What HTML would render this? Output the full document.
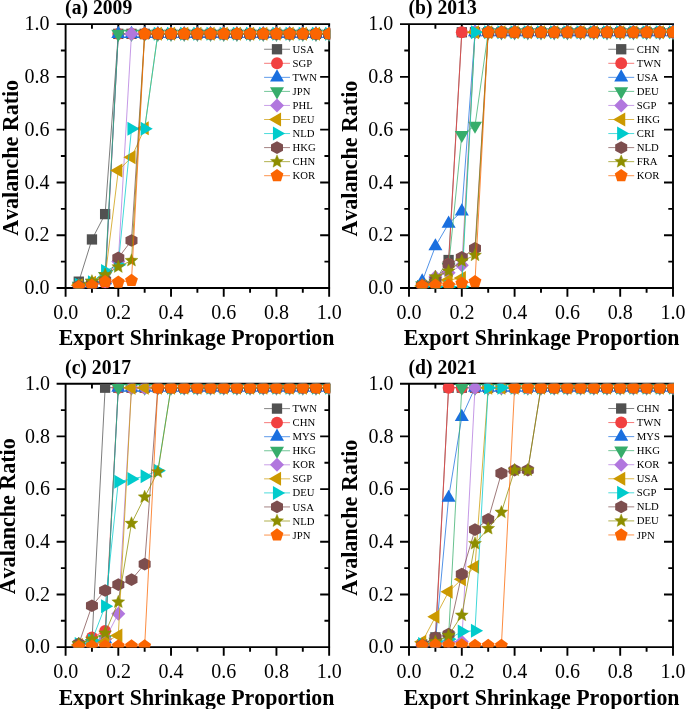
<!DOCTYPE html>
<html><head><meta charset="utf-8"><title>Avalanche Ratio</title>
<style>
html,body{margin:0;padding:0;background:#fff;}
body{width:685px;height:709px;overflow:hidden;font-family:"Liberation Serif",serif;}
svg text{font-family:"Liberation Serif",serif;fill:#000;font-kerning:none;}
.tl{font-size:20px;}
.at{font-size:23.4px;font-weight:bold;}
.pt{font-size:21.2px;font-weight:bold;}
.lg{font-size:10.7px;}
</style></head><body>
<svg width="685" height="709" viewBox="0 0 685 709" style="display:block;will-change:transform;transform:translateZ(0)">
<rect width="685" height="709" fill="#fff"/>
<path d="M56.60,24.10H330.15M56.60,288.00H330.15M65.60,24.10V296.70M329.15,24.10V296.70" fill="none" stroke="#000" stroke-width="1.9"/>
<path d="M60.90,261.61H65.6M324.45,261.61H329.15M91.95,288.0V292.70M91.95,24.1V28.80M56.60,235.22H65.6M320.15,235.22H329.15M118.31,288.0V296.70M118.31,24.1V32.80M60.90,208.83H65.6M324.45,208.83H329.15M144.66,288.0V292.70M144.66,24.1V28.80M56.60,182.44H65.6M320.15,182.44H329.15M171.02,288.0V296.70M171.02,24.1V32.80M60.90,156.05H65.6M324.45,156.05H329.15M197.38,288.0V292.70M197.38,24.1V28.80M56.60,129.66H65.6M320.15,129.66H329.15M223.73,288.0V296.70M223.73,24.1V32.80M60.90,103.27H65.6M324.45,103.27H329.15M250.08,288.0V292.70M250.08,24.1V28.80M56.60,76.88H65.6M320.15,76.88H329.15M276.44,288.0V296.70M276.44,24.1V32.80M60.90,50.49H65.6M324.45,50.49H329.15M302.80,288.0V292.70M302.80,24.1V28.80" fill="none" stroke="#000" stroke-width="1.9"/>
<clipPath id="cp0"><rect x="65.6" y="24.1" width="264.55" height="264.2"/></clipPath>
<g clip-path="url(#cp0)">
<polyline points="78.78,281.67 91.95,239.44 105.13,214.11 118.31,33.86 131.49,33.86 144.66,33.86 157.84,33.86 171.02,33.86 184.20,33.86 197.38,33.86 210.55,33.86 223.73,33.86 236.91,33.86 250.08,33.86 263.26,33.86 276.44,33.86 289.62,33.86 302.80,33.86 315.97,33.86 329.15,33.86" fill="none" stroke="#515151" stroke-width="0.75"/>
<rect x="73.63" y="276.52" width="10.30" height="10.30" fill="#515151"/>
<rect x="86.80" y="234.29" width="10.30" height="10.30" fill="#515151"/>
<rect x="99.98" y="208.96" width="10.30" height="10.30" fill="#515151"/>
<rect x="113.16" y="28.71" width="10.30" height="10.30" fill="#515151"/>
<rect x="126.34" y="28.71" width="10.30" height="10.30" fill="#515151"/>
<rect x="139.51" y="28.71" width="10.30" height="10.30" fill="#515151"/>
<rect x="152.69" y="28.71" width="10.30" height="10.30" fill="#515151"/>
<rect x="165.87" y="28.71" width="10.30" height="10.30" fill="#515151"/>
<rect x="179.05" y="28.71" width="10.30" height="10.30" fill="#515151"/>
<rect x="192.22" y="28.71" width="10.30" height="10.30" fill="#515151"/>
<rect x="205.40" y="28.71" width="10.30" height="10.30" fill="#515151"/>
<rect x="218.58" y="28.71" width="10.30" height="10.30" fill="#515151"/>
<rect x="231.76" y="28.71" width="10.30" height="10.30" fill="#515151"/>
<rect x="244.93" y="28.71" width="10.30" height="10.30" fill="#515151"/>
<rect x="258.11" y="28.71" width="10.30" height="10.30" fill="#515151"/>
<rect x="271.29" y="28.71" width="10.30" height="10.30" fill="#515151"/>
<rect x="284.47" y="28.71" width="10.30" height="10.30" fill="#515151"/>
<rect x="297.65" y="28.71" width="10.30" height="10.30" fill="#515151"/>
<rect x="310.82" y="28.71" width="10.30" height="10.30" fill="#515151"/>
<rect x="324.00" y="28.71" width="10.30" height="10.30" fill="#515151"/>
<polyline points="78.78,285.89 91.95,284.83 105.13,282.72 118.31,33.86 131.49,33.86 144.66,33.86 157.84,33.86 171.02,33.86 184.20,33.86 197.38,33.86 210.55,33.86 223.73,33.86 236.91,33.86 250.08,33.86 263.26,33.86 276.44,33.86 289.62,33.86 302.80,33.86 315.97,33.86 329.15,33.86" fill="none" stroke="#F14040" stroke-width="0.75"/>
<circle cx="78.78" cy="285.89" r="5.95" fill="#F14040"/>
<circle cx="91.95" cy="284.83" r="5.95" fill="#F14040"/>
<circle cx="105.13" cy="282.72" r="5.95" fill="#F14040"/>
<circle cx="118.31" cy="33.86" r="5.95" fill="#F14040"/>
<circle cx="131.49" cy="33.86" r="5.95" fill="#F14040"/>
<circle cx="144.66" cy="33.86" r="5.95" fill="#F14040"/>
<circle cx="157.84" cy="33.86" r="5.95" fill="#F14040"/>
<circle cx="171.02" cy="33.86" r="5.95" fill="#F14040"/>
<circle cx="184.20" cy="33.86" r="5.95" fill="#F14040"/>
<circle cx="197.38" cy="33.86" r="5.95" fill="#F14040"/>
<circle cx="210.55" cy="33.86" r="5.95" fill="#F14040"/>
<circle cx="223.73" cy="33.86" r="5.95" fill="#F14040"/>
<circle cx="236.91" cy="33.86" r="5.95" fill="#F14040"/>
<circle cx="250.08" cy="33.86" r="5.95" fill="#F14040"/>
<circle cx="263.26" cy="33.86" r="5.95" fill="#F14040"/>
<circle cx="276.44" cy="33.86" r="5.95" fill="#F14040"/>
<circle cx="289.62" cy="33.86" r="5.95" fill="#F14040"/>
<circle cx="302.80" cy="33.86" r="5.95" fill="#F14040"/>
<circle cx="315.97" cy="33.86" r="5.95" fill="#F14040"/>
<circle cx="329.15" cy="33.86" r="5.95" fill="#F14040"/>
<polyline points="78.78,285.89 91.95,284.04 105.13,280.08 118.31,33.86 131.49,33.86 144.66,33.86 157.84,33.86 171.02,33.86 184.20,33.86 197.38,33.86 210.55,33.86 223.73,33.86 236.91,33.86 250.08,33.86 263.26,33.86 276.44,33.86 289.62,33.86 302.80,33.86 315.97,33.86 329.15,33.86" fill="none" stroke="#1A6FDF" stroke-width="0.75"/>
<polygon points="78.78,277.79 71.78,289.94 85.78,289.94" fill="#1A6FDF"/>
<polygon points="91.95,275.94 84.95,288.09 98.95,288.09" fill="#1A6FDF"/>
<polygon points="105.13,271.98 98.13,284.13 112.13,284.13" fill="#1A6FDF"/>
<polygon points="118.31,25.76 111.31,37.91 125.31,37.91" fill="#1A6FDF"/>
<polygon points="131.49,25.76 124.49,37.91 138.49,37.91" fill="#1A6FDF"/>
<polygon points="144.66,25.76 137.66,37.91 151.66,37.91" fill="#1A6FDF"/>
<polygon points="157.84,25.76 150.84,37.91 164.84,37.91" fill="#1A6FDF"/>
<polygon points="171.02,25.76 164.02,37.91 178.02,37.91" fill="#1A6FDF"/>
<polygon points="184.20,25.76 177.20,37.91 191.20,37.91" fill="#1A6FDF"/>
<polygon points="197.38,25.76 190.38,37.91 204.38,37.91" fill="#1A6FDF"/>
<polygon points="210.55,25.76 203.55,37.91 217.55,37.91" fill="#1A6FDF"/>
<polygon points="223.73,25.76 216.73,37.91 230.73,37.91" fill="#1A6FDF"/>
<polygon points="236.91,25.76 229.91,37.91 243.91,37.91" fill="#1A6FDF"/>
<polygon points="250.08,25.76 243.08,37.91 257.08,37.91" fill="#1A6FDF"/>
<polygon points="263.26,25.76 256.26,37.91 270.26,37.91" fill="#1A6FDF"/>
<polygon points="276.44,25.76 269.44,37.91 283.44,37.91" fill="#1A6FDF"/>
<polygon points="289.62,25.76 282.62,37.91 296.62,37.91" fill="#1A6FDF"/>
<polygon points="302.80,25.76 295.80,37.91 309.80,37.91" fill="#1A6FDF"/>
<polygon points="315.97,25.76 308.97,37.91 322.97,37.91" fill="#1A6FDF"/>
<polygon points="329.15,25.76 322.15,37.91 336.15,37.91" fill="#1A6FDF"/>
<polyline points="78.78,285.89 91.95,282.72 105.13,276.12 118.31,33.86 131.49,33.86 144.66,33.86 157.84,33.86 171.02,33.86 184.20,33.86 197.38,33.86 210.55,33.86 223.73,33.86 236.91,33.86 250.08,33.86 263.26,33.86 276.44,33.86 289.62,33.86 302.80,33.86 315.97,33.86 329.15,33.86" fill="none" stroke="#37AD6B" stroke-width="0.75"/>
<polygon points="78.78,293.99 71.78,281.84 85.78,281.84" fill="#37AD6B"/>
<polygon points="91.95,290.82 84.95,278.67 98.95,278.67" fill="#37AD6B"/>
<polygon points="105.13,284.22 98.13,272.07 112.13,272.07" fill="#37AD6B"/>
<polygon points="118.31,41.96 111.31,29.81 125.31,29.81" fill="#37AD6B"/>
<polygon points="131.49,41.96 124.49,29.81 138.49,29.81" fill="#37AD6B"/>
<polygon points="144.66,41.96 137.66,29.81 151.66,29.81" fill="#37AD6B"/>
<polygon points="157.84,41.96 150.84,29.81 164.84,29.81" fill="#37AD6B"/>
<polygon points="171.02,41.96 164.02,29.81 178.02,29.81" fill="#37AD6B"/>
<polygon points="184.20,41.96 177.20,29.81 191.20,29.81" fill="#37AD6B"/>
<polygon points="197.38,41.96 190.38,29.81 204.38,29.81" fill="#37AD6B"/>
<polygon points="210.55,41.96 203.55,29.81 217.55,29.81" fill="#37AD6B"/>
<polygon points="223.73,41.96 216.73,29.81 230.73,29.81" fill="#37AD6B"/>
<polygon points="236.91,41.96 229.91,29.81 243.91,29.81" fill="#37AD6B"/>
<polygon points="250.08,41.96 243.08,29.81 257.08,29.81" fill="#37AD6B"/>
<polygon points="263.26,41.96 256.26,29.81 270.26,29.81" fill="#37AD6B"/>
<polygon points="276.44,41.96 269.44,29.81 283.44,29.81" fill="#37AD6B"/>
<polygon points="289.62,41.96 282.62,29.81 296.62,29.81" fill="#37AD6B"/>
<polygon points="302.80,41.96 295.80,29.81 309.80,29.81" fill="#37AD6B"/>
<polygon points="315.97,41.96 308.97,29.81 322.97,29.81" fill="#37AD6B"/>
<polygon points="329.15,41.96 322.15,29.81 336.15,29.81" fill="#37AD6B"/>
<polyline points="78.78,285.89 91.95,284.04 105.13,281.40 118.31,261.61 131.49,33.86 144.66,33.86 157.84,33.86 171.02,33.86 184.20,33.86 197.38,33.86 210.55,33.86 223.73,33.86 236.91,33.86 250.08,33.86 263.26,33.86 276.44,33.86 289.62,33.86 302.80,33.86 315.97,33.86 329.15,33.86" fill="none" stroke="#B177DE" stroke-width="0.75"/>
<polygon points="78.78,278.89 85.78,285.89 78.78,292.89 71.78,285.89" fill="#B177DE"/>
<polygon points="91.95,277.04 98.95,284.04 91.95,291.04 84.95,284.04" fill="#B177DE"/>
<polygon points="105.13,274.40 112.13,281.40 105.13,288.40 98.13,281.40" fill="#B177DE"/>
<polygon points="118.31,254.61 125.31,261.61 118.31,268.61 111.31,261.61" fill="#B177DE"/>
<polygon points="131.49,26.86 138.49,33.86 131.49,40.86 124.49,33.86" fill="#B177DE"/>
<polygon points="144.66,26.86 151.66,33.86 144.66,40.86 137.66,33.86" fill="#B177DE"/>
<polygon points="157.84,26.86 164.84,33.86 157.84,40.86 150.84,33.86" fill="#B177DE"/>
<polygon points="171.02,26.86 178.02,33.86 171.02,40.86 164.02,33.86" fill="#B177DE"/>
<polygon points="184.20,26.86 191.20,33.86 184.20,40.86 177.20,33.86" fill="#B177DE"/>
<polygon points="197.38,26.86 204.38,33.86 197.38,40.86 190.38,33.86" fill="#B177DE"/>
<polygon points="210.55,26.86 217.55,33.86 210.55,40.86 203.55,33.86" fill="#B177DE"/>
<polygon points="223.73,26.86 230.73,33.86 223.73,40.86 216.73,33.86" fill="#B177DE"/>
<polygon points="236.91,26.86 243.91,33.86 236.91,40.86 229.91,33.86" fill="#B177DE"/>
<polygon points="250.08,26.86 257.08,33.86 250.08,40.86 243.08,33.86" fill="#B177DE"/>
<polygon points="263.26,26.86 270.26,33.86 263.26,40.86 256.26,33.86" fill="#B177DE"/>
<polygon points="276.44,26.86 283.44,33.86 276.44,40.86 269.44,33.86" fill="#B177DE"/>
<polygon points="289.62,26.86 296.62,33.86 289.62,40.86 282.62,33.86" fill="#B177DE"/>
<polygon points="302.80,26.86 309.80,33.86 302.80,40.86 295.80,33.86" fill="#B177DE"/>
<polygon points="315.97,26.86 322.97,33.86 315.97,40.86 308.97,33.86" fill="#B177DE"/>
<polygon points="329.15,26.86 336.15,33.86 329.15,40.86 322.15,33.86" fill="#B177DE"/>
<polyline points="78.78,285.36 91.95,282.72 105.13,277.44 118.31,170.56 131.49,157.37 144.66,128.34 157.84,33.86 171.02,33.86 184.20,33.86 197.38,33.86 210.55,33.86 223.73,33.86 236.91,33.86 250.08,33.86 263.26,33.86 276.44,33.86 289.62,33.86 302.80,33.86 315.97,33.86 329.15,33.86" fill="none" stroke="#CC9900" stroke-width="0.75"/>
<polygon points="70.68,285.36 82.83,278.36 82.83,292.36" fill="#CC9900"/>
<polygon points="83.86,282.72 96.00,275.72 96.00,289.72" fill="#CC9900"/>
<polygon points="97.03,277.44 109.18,270.44 109.18,284.44" fill="#CC9900"/>
<polygon points="110.21,170.56 122.36,163.56 122.36,177.56" fill="#CC9900"/>
<polygon points="123.39,157.37 135.54,150.37 135.54,164.37" fill="#CC9900"/>
<polygon points="136.56,128.34 148.72,121.34 148.72,135.34" fill="#CC9900"/>
<polygon points="149.74,33.86 161.89,26.86 161.89,40.86" fill="#CC9900"/>
<polygon points="162.92,33.86 175.07,26.86 175.07,40.86" fill="#CC9900"/>
<polygon points="176.10,33.86 188.25,26.86 188.25,40.86" fill="#CC9900"/>
<polygon points="189.28,33.86 201.43,26.86 201.43,40.86" fill="#CC9900"/>
<polygon points="202.45,33.86 214.60,26.86 214.60,40.86" fill="#CC9900"/>
<polygon points="215.63,33.86 227.78,26.86 227.78,40.86" fill="#CC9900"/>
<polygon points="228.81,33.86 240.96,26.86 240.96,40.86" fill="#CC9900"/>
<polygon points="241.98,33.86 254.13,26.86 254.13,40.86" fill="#CC9900"/>
<polygon points="255.16,33.86 267.31,26.86 267.31,40.86" fill="#CC9900"/>
<polygon points="268.34,33.86 280.49,26.86 280.49,40.86" fill="#CC9900"/>
<polygon points="281.52,33.86 293.67,26.86 293.67,40.86" fill="#CC9900"/>
<polygon points="294.69,33.86 306.85,26.86 306.85,40.86" fill="#CC9900"/>
<polygon points="307.87,33.86 320.02,26.86 320.02,40.86" fill="#CC9900"/>
<polygon points="321.05,33.86 333.20,26.86 333.20,40.86" fill="#CC9900"/>
<polyline points="78.78,284.83 91.95,282.19 105.13,271.11 118.31,264.78 131.49,128.87 144.66,128.87 157.84,33.86 171.02,33.86 184.20,33.86 197.38,33.86 210.55,33.86 223.73,33.86 236.91,33.86 250.08,33.86 263.26,33.86 276.44,33.86 289.62,33.86 302.80,33.86 315.97,33.86 329.15,33.86" fill="none" stroke="#00CBCC" stroke-width="0.75"/>
<polygon points="86.88,284.83 74.73,277.83 74.73,291.83" fill="#00CBCC"/>
<polygon points="100.05,282.19 87.91,275.19 87.91,289.19" fill="#00CBCC"/>
<polygon points="113.23,271.11 101.08,264.11 101.08,278.11" fill="#00CBCC"/>
<polygon points="126.41,264.78 114.26,257.78 114.26,271.78" fill="#00CBCC"/>
<polygon points="139.59,128.87 127.44,121.87 127.44,135.87" fill="#00CBCC"/>
<polygon points="152.76,128.87 140.61,121.87 140.61,135.87" fill="#00CBCC"/>
<polygon points="165.94,33.86 153.79,26.86 153.79,40.86" fill="#00CBCC"/>
<polygon points="179.12,33.86 166.97,26.86 166.97,40.86" fill="#00CBCC"/>
<polygon points="192.30,33.86 180.15,26.86 180.15,40.86" fill="#00CBCC"/>
<polygon points="205.47,33.86 193.32,26.86 193.32,40.86" fill="#00CBCC"/>
<polygon points="218.65,33.86 206.50,26.86 206.50,40.86" fill="#00CBCC"/>
<polygon points="231.83,33.86 219.68,26.86 219.68,40.86" fill="#00CBCC"/>
<polygon points="245.01,33.86 232.86,26.86 232.86,40.86" fill="#00CBCC"/>
<polygon points="258.19,33.86 246.03,26.86 246.03,40.86" fill="#00CBCC"/>
<polygon points="271.36,33.86 259.21,26.86 259.21,40.86" fill="#00CBCC"/>
<polygon points="284.54,33.86 272.39,26.86 272.39,40.86" fill="#00CBCC"/>
<polygon points="297.72,33.86 285.57,26.86 285.57,40.86" fill="#00CBCC"/>
<polygon points="310.90,33.86 298.75,26.86 298.75,40.86" fill="#00CBCC"/>
<polygon points="324.07,33.86 311.92,26.86 311.92,40.86" fill="#00CBCC"/>
<polygon points="337.25,33.86 325.10,26.86 325.10,40.86" fill="#00CBCC"/>
<polyline points="78.78,285.89 91.95,284.04 105.13,280.08 118.31,257.92 131.49,240.50 144.66,33.86 157.84,33.86 171.02,33.86 184.20,33.86 197.38,33.86 210.55,33.86 223.73,33.86 236.91,33.86 250.08,33.86 263.26,33.86 276.44,33.86 289.62,33.86 302.80,33.86 315.97,33.86 329.15,33.86" fill="none" stroke="#7D4E4E" stroke-width="0.75"/>
<polygon points="78.78,279.54 84.78,282.72 84.78,289.06 78.78,292.24 72.78,289.06 72.78,282.72" fill="#7D4E4E"/>
<polygon points="91.95,277.69 97.95,280.87 97.95,287.21 91.95,290.39 85.95,287.21 85.95,280.87" fill="#7D4E4E"/>
<polygon points="105.13,273.73 111.13,276.91 111.13,283.25 105.13,286.43 99.13,283.25 99.13,276.91" fill="#7D4E4E"/>
<polygon points="118.31,251.57 124.31,254.75 124.31,261.09 118.31,264.27 112.31,261.09 112.31,254.75" fill="#7D4E4E"/>
<polygon points="131.49,234.15 137.49,237.33 137.49,243.67 131.49,246.85 125.49,243.67 125.49,237.33" fill="#7D4E4E"/>
<polygon points="144.66,27.51 150.66,30.69 150.66,37.03 144.66,40.21 138.66,37.03 138.66,30.69" fill="#7D4E4E"/>
<polygon points="157.84,27.51 163.84,30.69 163.84,37.03 157.84,40.21 151.84,37.03 151.84,30.69" fill="#7D4E4E"/>
<polygon points="171.02,27.51 177.02,30.69 177.02,37.03 171.02,40.21 165.02,37.03 165.02,30.69" fill="#7D4E4E"/>
<polygon points="184.20,27.51 190.20,30.69 190.20,37.03 184.20,40.21 178.20,37.03 178.20,30.69" fill="#7D4E4E"/>
<polygon points="197.38,27.51 203.38,30.69 203.38,37.03 197.38,40.21 191.38,37.03 191.38,30.69" fill="#7D4E4E"/>
<polygon points="210.55,27.51 216.55,30.69 216.55,37.03 210.55,40.21 204.55,37.03 204.55,30.69" fill="#7D4E4E"/>
<polygon points="223.73,27.51 229.73,30.69 229.73,37.03 223.73,40.21 217.73,37.03 217.73,30.69" fill="#7D4E4E"/>
<polygon points="236.91,27.51 242.91,30.69 242.91,37.03 236.91,40.21 230.91,37.03 230.91,30.69" fill="#7D4E4E"/>
<polygon points="250.08,27.51 256.08,30.69 256.08,37.03 250.08,40.21 244.08,37.03 244.08,30.69" fill="#7D4E4E"/>
<polygon points="263.26,27.51 269.26,30.69 269.26,37.03 263.26,40.21 257.26,37.03 257.26,30.69" fill="#7D4E4E"/>
<polygon points="276.44,27.51 282.44,30.69 282.44,37.03 276.44,40.21 270.44,37.03 270.44,30.69" fill="#7D4E4E"/>
<polygon points="289.62,27.51 295.62,30.69 295.62,37.03 289.62,40.21 283.62,37.03 283.62,30.69" fill="#7D4E4E"/>
<polygon points="302.80,27.51 308.80,30.69 308.80,37.03 302.80,40.21 296.80,37.03 296.80,30.69" fill="#7D4E4E"/>
<polygon points="315.97,27.51 321.97,30.69 321.97,37.03 315.97,40.21 309.97,37.03 309.97,30.69" fill="#7D4E4E"/>
<polygon points="329.15,27.51 335.15,30.69 335.15,37.03 329.15,40.21 323.15,37.03 323.15,30.69" fill="#7D4E4E"/>
<polyline points="78.78,285.36 91.95,281.40 105.13,274.81 118.31,266.89 131.49,260.55 144.66,33.86 157.84,33.86 171.02,33.86 184.20,33.86 197.38,33.86 210.55,33.86 223.73,33.86 236.91,33.86 250.08,33.86 263.26,33.86 276.44,33.86 289.62,33.86 302.80,33.86 315.97,33.86 329.15,33.86" fill="none" stroke="#8E8E00" stroke-width="0.75"/>
<polygon points="78.78,278.56 80.58,282.89 85.24,283.26 81.69,286.31 82.77,290.86 78.78,288.42 74.78,290.86 75.87,286.31 72.31,283.26 76.98,282.89" fill="#8E8E00" stroke="#8E8E00" stroke-width="0.4"/>
<polygon points="91.95,274.60 93.75,278.93 98.42,279.30 94.87,282.35 95.95,286.90 91.95,284.46 87.96,286.90 89.04,282.35 85.49,279.30 90.16,278.93" fill="#8E8E00" stroke="#8E8E00" stroke-width="0.4"/>
<polygon points="105.13,268.00 106.93,272.33 111.60,272.70 108.04,275.75 109.13,280.31 105.13,277.87 101.14,280.31 102.22,275.75 98.67,272.70 103.33,272.33" fill="#8E8E00" stroke="#8E8E00" stroke-width="0.4"/>
<polygon points="118.31,260.09 120.11,264.41 124.78,264.79 121.22,267.83 122.31,272.39 118.31,269.95 114.31,272.39 115.40,267.83 111.84,264.79 116.51,264.41" fill="#8E8E00" stroke="#8E8E00" stroke-width="0.4"/>
<polygon points="131.49,253.75 133.29,258.08 137.95,258.45 134.40,261.50 135.48,266.06 131.49,263.61 127.49,266.06 128.58,261.50 125.02,258.45 129.69,258.08" fill="#8E8E00" stroke="#8E8E00" stroke-width="0.4"/>
<polygon points="144.66,27.06 146.46,31.39 151.13,31.76 147.58,34.81 148.66,39.37 144.66,36.92 140.67,39.37 141.75,34.81 138.20,31.76 142.87,31.39" fill="#8E8E00" stroke="#8E8E00" stroke-width="0.4"/>
<polygon points="157.84,27.06 159.64,31.39 164.31,31.76 160.75,34.81 161.84,39.37 157.84,36.92 153.85,39.37 154.93,34.81 151.38,31.76 156.04,31.39" fill="#8E8E00" stroke="#8E8E00" stroke-width="0.4"/>
<polygon points="171.02,27.06 172.82,31.39 177.49,31.76 173.93,34.81 175.02,39.37 171.02,36.92 167.02,39.37 168.11,34.81 164.55,31.76 169.22,31.39" fill="#8E8E00" stroke="#8E8E00" stroke-width="0.4"/>
<polygon points="184.20,27.06 186.00,31.39 190.66,31.76 187.11,34.81 188.19,39.37 184.20,36.92 180.20,39.37 181.29,34.81 177.73,31.76 182.40,31.39" fill="#8E8E00" stroke="#8E8E00" stroke-width="0.4"/>
<polygon points="197.38,27.06 199.17,31.39 203.84,31.76 200.29,34.81 201.37,39.37 197.38,36.92 193.38,39.37 194.46,34.81 190.91,31.76 195.58,31.39" fill="#8E8E00" stroke="#8E8E00" stroke-width="0.4"/>
<polygon points="210.55,27.06 212.35,31.39 217.02,31.76 213.46,34.81 214.55,39.37 210.55,36.92 206.56,39.37 207.64,34.81 204.09,31.76 208.75,31.39" fill="#8E8E00" stroke="#8E8E00" stroke-width="0.4"/>
<polygon points="223.73,27.06 225.53,31.39 230.20,31.76 226.64,34.81 227.73,39.37 223.73,36.92 219.73,39.37 220.82,34.81 217.26,31.76 221.93,31.39" fill="#8E8E00" stroke="#8E8E00" stroke-width="0.4"/>
<polygon points="236.91,27.06 238.71,31.39 243.37,31.76 239.82,34.81 240.90,39.37 236.91,36.92 232.91,39.37 234.00,34.81 230.44,31.76 235.11,31.39" fill="#8E8E00" stroke="#8E8E00" stroke-width="0.4"/>
<polygon points="250.08,27.06 251.88,31.39 256.55,31.76 253.00,34.81 254.08,39.37 250.08,36.92 246.09,39.37 247.17,34.81 243.62,31.76 248.29,31.39" fill="#8E8E00" stroke="#8E8E00" stroke-width="0.4"/>
<polygon points="263.26,27.06 265.06,31.39 269.73,31.76 266.17,34.81 267.26,39.37 263.26,36.92 259.27,39.37 260.35,34.81 256.80,31.76 261.46,31.39" fill="#8E8E00" stroke="#8E8E00" stroke-width="0.4"/>
<polygon points="276.44,27.06 278.24,31.39 282.91,31.76 279.35,34.81 280.44,39.37 276.44,36.92 272.44,39.37 273.53,34.81 269.97,31.76 274.64,31.39" fill="#8E8E00" stroke="#8E8E00" stroke-width="0.4"/>
<polygon points="289.62,27.06 291.42,31.39 296.08,31.76 292.53,34.81 293.61,39.37 289.62,36.92 285.62,39.37 286.71,34.81 283.15,31.76 287.82,31.39" fill="#8E8E00" stroke="#8E8E00" stroke-width="0.4"/>
<polygon points="302.80,27.06 304.59,31.39 309.26,31.76 305.71,34.81 306.79,39.37 302.80,36.92 298.80,39.37 299.88,34.81 296.33,31.76 301.00,31.39" fill="#8E8E00" stroke="#8E8E00" stroke-width="0.4"/>
<polygon points="315.97,27.06 317.77,31.39 322.44,31.76 318.88,34.81 319.97,39.37 315.97,36.92 311.98,39.37 313.06,34.81 309.51,31.76 314.17,31.39" fill="#8E8E00" stroke="#8E8E00" stroke-width="0.4"/>
<polygon points="329.15,27.06 330.95,31.39 335.62,31.76 332.06,34.81 333.15,39.37 329.15,36.92 325.15,39.37 326.24,34.81 322.68,31.76 327.35,31.39" fill="#8E8E00" stroke="#8E8E00" stroke-width="0.4"/>
<polyline points="78.78,286.68 91.95,285.62 105.13,281.67 118.31,282.19 131.49,280.61 144.66,33.86 157.84,33.86 171.02,33.86 184.20,33.86 197.38,33.86 210.55,33.86 223.73,33.86 236.91,33.86 250.08,33.86 263.26,33.86 276.44,33.86 289.62,33.86 302.80,33.86 315.97,33.86 329.15,33.86" fill="none" stroke="#FB6501" stroke-width="0.75"/>
<polygon points="78.78,279.93 85.20,284.59 82.75,292.14 74.81,292.14 72.36,284.59" fill="#FB6501"/>
<polygon points="91.95,278.87 98.37,283.54 95.92,291.09 87.99,291.09 85.54,283.54" fill="#FB6501"/>
<polygon points="105.13,274.92 111.55,279.58 109.10,287.13 101.16,287.13 98.71,279.58" fill="#FB6501"/>
<polygon points="118.31,275.44 124.73,280.11 122.28,287.66 114.34,287.66 111.89,280.11" fill="#FB6501"/>
<polygon points="131.49,273.86 137.91,278.52 135.46,286.07 127.52,286.07 125.07,278.52" fill="#FB6501"/>
<polygon points="144.66,27.11 151.08,31.78 148.63,39.33 140.70,39.33 138.25,31.78" fill="#FB6501"/>
<polygon points="157.84,27.11 164.26,31.78 161.81,39.33 153.87,39.33 151.42,31.78" fill="#FB6501"/>
<polygon points="171.02,27.11 177.44,31.78 174.99,39.33 167.05,39.33 164.60,31.78" fill="#FB6501"/>
<polygon points="184.20,27.11 190.62,31.78 188.17,39.33 180.23,39.33 177.78,31.78" fill="#FB6501"/>
<polygon points="197.38,27.11 203.79,31.78 201.34,39.33 193.41,39.33 190.96,31.78" fill="#FB6501"/>
<polygon points="210.55,27.11 216.97,31.78 214.52,39.33 206.58,39.33 204.13,31.78" fill="#FB6501"/>
<polygon points="223.73,27.11 230.15,31.78 227.70,39.33 219.76,39.33 217.31,31.78" fill="#FB6501"/>
<polygon points="236.91,27.11 243.33,31.78 240.88,39.33 232.94,39.33 230.49,31.78" fill="#FB6501"/>
<polygon points="250.08,27.11 256.50,31.78 254.05,39.33 246.12,39.33 243.67,31.78" fill="#FB6501"/>
<polygon points="263.26,27.11 269.68,31.78 267.23,39.33 259.29,39.33 256.84,31.78" fill="#FB6501"/>
<polygon points="276.44,27.11 282.86,31.78 280.41,39.33 272.47,39.33 270.02,31.78" fill="#FB6501"/>
<polygon points="289.62,27.11 296.04,31.78 293.59,39.33 285.65,39.33 283.20,31.78" fill="#FB6501"/>
<polygon points="302.80,27.11 309.21,31.78 306.76,39.33 298.83,39.33 296.38,31.78" fill="#FB6501"/>
<polygon points="315.97,27.11 322.39,31.78 319.94,39.33 312.00,39.33 309.55,31.78" fill="#FB6501"/>
<polygon points="329.15,27.11 335.57,31.78 333.12,39.33 325.18,39.33 322.73,31.78" fill="#FB6501"/>
</g>
<text x="49.40" y="294.10" text-anchor="end" class="tl">0.0</text>
<text x="65.70" y="318.90" text-anchor="middle" class="tl">0.0</text>
<text x="49.40" y="241.32" text-anchor="end" class="tl">0.2</text>
<text x="118.41" y="318.90" text-anchor="middle" class="tl">0.2</text>
<text x="49.40" y="188.54" text-anchor="end" class="tl">0.4</text>
<text x="171.12" y="318.90" text-anchor="middle" class="tl">0.4</text>
<text x="49.40" y="135.76" text-anchor="end" class="tl">0.6</text>
<text x="223.83" y="318.90" text-anchor="middle" class="tl">0.6</text>
<text x="49.40" y="82.98" text-anchor="end" class="tl">0.8</text>
<text x="276.54" y="318.90" text-anchor="middle" class="tl">0.8</text>
<text x="49.40" y="30.20" text-anchor="end" class="tl">1.0</text>
<text x="329.25" y="318.90" text-anchor="middle" class="tl">1.0</text>
<text transform="translate(196.57,345.45) scale(0.935,1)" text-anchor="middle" class="at">Export Shrinkage Proportion</text>
<text transform="translate(17.70,157.85) rotate(-90) scale(0.941,1)" text-anchor="middle" class="at">Avalanche Ratio</text>
<text transform="translate(65.10,13.90) scale(0.927,1)" class="pt">(a) 2009</text>
<path d="M264.10,49.25H290.00" stroke="#515151" stroke-width="0.7"/>
<rect x="271.85" y="44.10" width="10.30" height="10.30" fill="#515151"/>
<text x="292.60" y="52.80" class="lg">USA</text>
<path d="M264.10,63.30H290.00" stroke="#F14040" stroke-width="0.7"/>
<circle cx="277.00" cy="63.30" r="5.95" fill="#F14040"/>
<text x="292.60" y="66.85" class="lg">SGP</text>
<path d="M264.10,77.35H290.00" stroke="#1A6FDF" stroke-width="0.7"/>
<polygon points="277.00,69.25 270.00,81.40 284.00,81.40" fill="#1A6FDF"/>
<text x="292.60" y="80.90" class="lg">TWN</text>
<path d="M264.10,91.40H290.00" stroke="#37AD6B" stroke-width="0.7"/>
<polygon points="277.00,99.50 270.00,87.35 284.00,87.35" fill="#37AD6B"/>
<text x="292.60" y="94.95" class="lg">JPN</text>
<path d="M264.10,105.45H290.00" stroke="#B177DE" stroke-width="0.7"/>
<polygon points="277.00,98.45 284.00,105.45 277.00,112.45 270.00,105.45" fill="#B177DE"/>
<text x="292.60" y="109.00" class="lg">PHL</text>
<path d="M264.10,119.50H290.00" stroke="#CC9900" stroke-width="0.7"/>
<polygon points="268.90,119.50 281.05,112.50 281.05,126.50" fill="#CC9900"/>
<text x="292.60" y="123.05" class="lg">DEU</text>
<path d="M264.10,133.55H290.00" stroke="#00CBCC" stroke-width="0.7"/>
<polygon points="285.10,133.55 272.95,126.55 272.95,140.55" fill="#00CBCC"/>
<text x="292.60" y="137.10" class="lg">NLD</text>
<path d="M264.10,147.60H290.00" stroke="#7D4E4E" stroke-width="0.7"/>
<polygon points="277.00,141.25 283.00,144.43 283.00,150.77 277.00,153.95 271.00,150.77 271.00,144.43" fill="#7D4E4E"/>
<text x="292.60" y="151.15" class="lg">HKG</text>
<path d="M264.10,161.65H290.00" stroke="#8E8E00" stroke-width="0.7"/>
<polygon points="277.00,154.85 278.80,159.17 283.47,159.55 279.91,162.60 281.00,167.15 277.00,164.71 273.00,167.15 274.09,162.60 270.53,159.55 275.20,159.17" fill="#8E8E00" stroke="#8E8E00" stroke-width="0.4"/>
<text x="292.60" y="165.20" class="lg">CHN</text>
<path d="M264.10,175.70H290.00" stroke="#FB6501" stroke-width="0.7"/>
<polygon points="277.00,168.95 283.42,173.61 280.97,181.16 273.03,181.16 270.58,173.61" fill="#FB6501"/>
<text x="292.60" y="179.25" class="lg">KOR</text>
<path d="M400.00,24.10H674.00M400.00,288.00H674.00M409.00,24.10V296.70M673.00,24.10V296.70" fill="none" stroke="#000" stroke-width="1.9"/>
<path d="M404.30,261.61H409.0M668.30,261.61H673.0M435.40,288.0V292.70M435.40,24.1V28.80M400.00,235.22H409.0M664.00,235.22H673.0M461.80,288.0V296.70M461.80,24.1V32.80M404.30,208.83H409.0M668.30,208.83H673.0M488.20,288.0V292.70M488.20,24.1V28.80M400.00,182.44H409.0M664.00,182.44H673.0M514.60,288.0V296.70M514.60,24.1V32.80M404.30,156.05H409.0M668.30,156.05H673.0M541.00,288.0V292.70M541.00,24.1V28.80M400.00,129.66H409.0M664.00,129.66H673.0M567.40,288.0V296.70M567.40,24.1V32.80M404.30,103.27H409.0M668.30,103.27H673.0M593.80,288.0V292.70M593.80,24.1V28.80M400.00,76.88H409.0M664.00,76.88H673.0M620.20,288.0V296.70M620.20,24.1V32.80M404.30,50.49H409.0M668.30,50.49H673.0M646.60,288.0V292.70M646.60,24.1V28.80" fill="none" stroke="#000" stroke-width="1.9"/>
<clipPath id="cp1"><rect x="409.0" y="24.1" width="265.0" height="264.2"/></clipPath>
<g clip-path="url(#cp1)">
<polyline points="422.20,285.36 435.40,280.08 448.60,260.03 461.80,32.28 475.00,32.28 488.20,32.28 501.40,32.28 514.60,32.28 527.80,32.28 541.00,32.28 554.20,32.28 567.40,32.28 580.60,32.28 593.80,32.28 607.00,32.28 620.20,32.28 633.40,32.28 646.60,32.28 659.80,32.28 673.00,32.28" fill="none" stroke="#515151" stroke-width="0.75"/>
<rect x="417.05" y="280.21" width="10.30" height="10.30" fill="#515151"/>
<rect x="430.25" y="274.93" width="10.30" height="10.30" fill="#515151"/>
<rect x="443.45" y="254.88" width="10.30" height="10.30" fill="#515151"/>
<rect x="456.65" y="27.13" width="10.30" height="10.30" fill="#515151"/>
<rect x="469.85" y="27.13" width="10.30" height="10.30" fill="#515151"/>
<rect x="483.05" y="27.13" width="10.30" height="10.30" fill="#515151"/>
<rect x="496.25" y="27.13" width="10.30" height="10.30" fill="#515151"/>
<rect x="509.45" y="27.13" width="10.30" height="10.30" fill="#515151"/>
<rect x="522.65" y="27.13" width="10.30" height="10.30" fill="#515151"/>
<rect x="535.85" y="27.13" width="10.30" height="10.30" fill="#515151"/>
<rect x="549.05" y="27.13" width="10.30" height="10.30" fill="#515151"/>
<rect x="562.25" y="27.13" width="10.30" height="10.30" fill="#515151"/>
<rect x="575.45" y="27.13" width="10.30" height="10.30" fill="#515151"/>
<rect x="588.65" y="27.13" width="10.30" height="10.30" fill="#515151"/>
<rect x="601.85" y="27.13" width="10.30" height="10.30" fill="#515151"/>
<rect x="615.05" y="27.13" width="10.30" height="10.30" fill="#515151"/>
<rect x="628.25" y="27.13" width="10.30" height="10.30" fill="#515151"/>
<rect x="641.45" y="27.13" width="10.30" height="10.30" fill="#515151"/>
<rect x="654.65" y="27.13" width="10.30" height="10.30" fill="#515151"/>
<rect x="667.85" y="27.13" width="10.30" height="10.30" fill="#515151"/>
<polyline points="422.20,285.36 435.40,282.72 448.60,264.25 461.80,32.28 475.00,32.28 488.20,32.28 501.40,32.28 514.60,32.28 527.80,32.28 541.00,32.28 554.20,32.28 567.40,32.28 580.60,32.28 593.80,32.28 607.00,32.28 620.20,32.28 633.40,32.28 646.60,32.28 659.80,32.28 673.00,32.28" fill="none" stroke="#F14040" stroke-width="0.75"/>
<circle cx="422.20" cy="285.36" r="5.95" fill="#F14040"/>
<circle cx="435.40" cy="282.72" r="5.95" fill="#F14040"/>
<circle cx="448.60" cy="264.25" r="5.95" fill="#F14040"/>
<circle cx="461.80" cy="32.28" r="5.95" fill="#F14040"/>
<circle cx="475.00" cy="32.28" r="5.95" fill="#F14040"/>
<circle cx="488.20" cy="32.28" r="5.95" fill="#F14040"/>
<circle cx="501.40" cy="32.28" r="5.95" fill="#F14040"/>
<circle cx="514.60" cy="32.28" r="5.95" fill="#F14040"/>
<circle cx="527.80" cy="32.28" r="5.95" fill="#F14040"/>
<circle cx="541.00" cy="32.28" r="5.95" fill="#F14040"/>
<circle cx="554.20" cy="32.28" r="5.95" fill="#F14040"/>
<circle cx="567.40" cy="32.28" r="5.95" fill="#F14040"/>
<circle cx="580.60" cy="32.28" r="5.95" fill="#F14040"/>
<circle cx="593.80" cy="32.28" r="5.95" fill="#F14040"/>
<circle cx="607.00" cy="32.28" r="5.95" fill="#F14040"/>
<circle cx="620.20" cy="32.28" r="5.95" fill="#F14040"/>
<circle cx="633.40" cy="32.28" r="5.95" fill="#F14040"/>
<circle cx="646.60" cy="32.28" r="5.95" fill="#F14040"/>
<circle cx="659.80" cy="32.28" r="5.95" fill="#F14040"/>
<circle cx="673.00" cy="32.28" r="5.95" fill="#F14040"/>
<polyline points="422.20,281.40 435.40,246.30 448.60,223.61 461.80,211.47 475.00,32.28 488.20,32.28 501.40,32.28 514.60,32.28 527.80,32.28 541.00,32.28 554.20,32.28 567.40,32.28 580.60,32.28 593.80,32.28 607.00,32.28 620.20,32.28 633.40,32.28 646.60,32.28 659.80,32.28 673.00,32.28" fill="none" stroke="#1A6FDF" stroke-width="0.75"/>
<polygon points="422.20,273.30 415.20,285.45 429.20,285.45" fill="#1A6FDF"/>
<polygon points="435.40,238.20 428.40,250.35 442.40,250.35" fill="#1A6FDF"/>
<polygon points="448.60,215.51 441.60,227.66 455.60,227.66" fill="#1A6FDF"/>
<polygon points="461.80,203.37 454.80,215.52 468.80,215.52" fill="#1A6FDF"/>
<polygon points="475.00,24.18 468.00,36.33 482.00,36.33" fill="#1A6FDF"/>
<polygon points="488.20,24.18 481.20,36.33 495.20,36.33" fill="#1A6FDF"/>
<polygon points="501.40,24.18 494.40,36.33 508.40,36.33" fill="#1A6FDF"/>
<polygon points="514.60,24.18 507.60,36.33 521.60,36.33" fill="#1A6FDF"/>
<polygon points="527.80,24.18 520.80,36.33 534.80,36.33" fill="#1A6FDF"/>
<polygon points="541.00,24.18 534.00,36.33 548.00,36.33" fill="#1A6FDF"/>
<polygon points="554.20,24.18 547.20,36.33 561.20,36.33" fill="#1A6FDF"/>
<polygon points="567.40,24.18 560.40,36.33 574.40,36.33" fill="#1A6FDF"/>
<polygon points="580.60,24.18 573.60,36.33 587.60,36.33" fill="#1A6FDF"/>
<polygon points="593.80,24.18 586.80,36.33 600.80,36.33" fill="#1A6FDF"/>
<polygon points="607.00,24.18 600.00,36.33 614.00,36.33" fill="#1A6FDF"/>
<polygon points="620.20,24.18 613.20,36.33 627.20,36.33" fill="#1A6FDF"/>
<polygon points="633.40,24.18 626.40,36.33 640.40,36.33" fill="#1A6FDF"/>
<polygon points="646.60,24.18 639.60,36.33 653.60,36.33" fill="#1A6FDF"/>
<polygon points="659.80,24.18 652.80,36.33 666.80,36.33" fill="#1A6FDF"/>
<polygon points="673.00,24.18 666.00,36.33 680.00,36.33" fill="#1A6FDF"/>
<polyline points="422.20,285.36 435.40,282.72 448.60,266.89 461.80,134.94 475.00,125.70 488.20,32.28 501.40,32.28 514.60,32.28 527.80,32.28 541.00,32.28 554.20,32.28 567.40,32.28 580.60,32.28 593.80,32.28 607.00,32.28 620.20,32.28 633.40,32.28 646.60,32.28 659.80,32.28 673.00,32.28" fill="none" stroke="#37AD6B" stroke-width="0.75"/>
<polygon points="422.20,293.46 415.20,281.31 429.20,281.31" fill="#37AD6B"/>
<polygon points="435.40,290.82 428.40,278.67 442.40,278.67" fill="#37AD6B"/>
<polygon points="448.60,274.99 441.60,262.84 455.60,262.84" fill="#37AD6B"/>
<polygon points="461.80,143.04 454.80,130.89 468.80,130.89" fill="#37AD6B"/>
<polygon points="475.00,133.80 468.00,121.65 482.00,121.65" fill="#37AD6B"/>
<polygon points="488.20,40.38 481.20,28.23 495.20,28.23" fill="#37AD6B"/>
<polygon points="501.40,40.38 494.40,28.23 508.40,28.23" fill="#37AD6B"/>
<polygon points="514.60,40.38 507.60,28.23 521.60,28.23" fill="#37AD6B"/>
<polygon points="527.80,40.38 520.80,28.23 534.80,28.23" fill="#37AD6B"/>
<polygon points="541.00,40.38 534.00,28.23 548.00,28.23" fill="#37AD6B"/>
<polygon points="554.20,40.38 547.20,28.23 561.20,28.23" fill="#37AD6B"/>
<polygon points="567.40,40.38 560.40,28.23 574.40,28.23" fill="#37AD6B"/>
<polygon points="580.60,40.38 573.60,28.23 587.60,28.23" fill="#37AD6B"/>
<polygon points="593.80,40.38 586.80,28.23 600.80,28.23" fill="#37AD6B"/>
<polygon points="607.00,40.38 600.00,28.23 614.00,28.23" fill="#37AD6B"/>
<polygon points="620.20,40.38 613.20,28.23 627.20,28.23" fill="#37AD6B"/>
<polygon points="633.40,40.38 626.40,28.23 640.40,28.23" fill="#37AD6B"/>
<polygon points="646.60,40.38 639.60,28.23 653.60,28.23" fill="#37AD6B"/>
<polygon points="659.80,40.38 652.80,28.23 666.80,28.23" fill="#37AD6B"/>
<polygon points="673.00,40.38 666.00,28.23 680.00,28.23" fill="#37AD6B"/>
<polyline points="422.20,285.36 435.40,276.92 448.60,272.69 461.80,265.30 475.00,32.28 488.20,32.28 501.40,32.28 514.60,32.28 527.80,32.28 541.00,32.28 554.20,32.28 567.40,32.28 580.60,32.28 593.80,32.28 607.00,32.28 620.20,32.28 633.40,32.28 646.60,32.28 659.80,32.28 673.00,32.28" fill="none" stroke="#B177DE" stroke-width="0.75"/>
<polygon points="422.20,278.36 429.20,285.36 422.20,292.36 415.20,285.36" fill="#B177DE"/>
<polygon points="435.40,269.92 442.40,276.92 435.40,283.92 428.40,276.92" fill="#B177DE"/>
<polygon points="448.60,265.69 455.60,272.69 448.60,279.69 441.60,272.69" fill="#B177DE"/>
<polygon points="461.80,258.30 468.80,265.30 461.80,272.30 454.80,265.30" fill="#B177DE"/>
<polygon points="475.00,25.28 482.00,32.28 475.00,39.28 468.00,32.28" fill="#B177DE"/>
<polygon points="488.20,25.28 495.20,32.28 488.20,39.28 481.20,32.28" fill="#B177DE"/>
<polygon points="501.40,25.28 508.40,32.28 501.40,39.28 494.40,32.28" fill="#B177DE"/>
<polygon points="514.60,25.28 521.60,32.28 514.60,39.28 507.60,32.28" fill="#B177DE"/>
<polygon points="527.80,25.28 534.80,32.28 527.80,39.28 520.80,32.28" fill="#B177DE"/>
<polygon points="541.00,25.28 548.00,32.28 541.00,39.28 534.00,32.28" fill="#B177DE"/>
<polygon points="554.20,25.28 561.20,32.28 554.20,39.28 547.20,32.28" fill="#B177DE"/>
<polygon points="567.40,25.28 574.40,32.28 567.40,39.28 560.40,32.28" fill="#B177DE"/>
<polygon points="580.60,25.28 587.60,32.28 580.60,39.28 573.60,32.28" fill="#B177DE"/>
<polygon points="593.80,25.28 600.80,32.28 593.80,39.28 586.80,32.28" fill="#B177DE"/>
<polygon points="607.00,25.28 614.00,32.28 607.00,39.28 600.00,32.28" fill="#B177DE"/>
<polygon points="620.20,25.28 627.20,32.28 620.20,39.28 613.20,32.28" fill="#B177DE"/>
<polygon points="633.40,25.28 640.40,32.28 633.40,39.28 626.40,32.28" fill="#B177DE"/>
<polygon points="646.60,25.28 653.60,32.28 646.60,39.28 639.60,32.28" fill="#B177DE"/>
<polygon points="659.80,25.28 666.80,32.28 659.80,39.28 652.80,32.28" fill="#B177DE"/>
<polygon points="673.00,25.28 680.00,32.28 673.00,39.28 666.00,32.28" fill="#B177DE"/>
<polyline points="422.20,285.89 435.40,284.04 448.60,280.08 461.80,277.97 475.00,32.28 488.20,32.28 501.40,32.28 514.60,32.28 527.80,32.28 541.00,32.28 554.20,32.28 567.40,32.28 580.60,32.28 593.80,32.28 607.00,32.28 620.20,32.28 633.40,32.28 646.60,32.28 659.80,32.28 673.00,32.28" fill="none" stroke="#CC9900" stroke-width="0.75"/>
<polygon points="414.10,285.89 426.25,278.89 426.25,292.89" fill="#CC9900"/>
<polygon points="427.30,284.04 439.45,277.04 439.45,291.04" fill="#CC9900"/>
<polygon points="440.50,280.08 452.65,273.08 452.65,287.08" fill="#CC9900"/>
<polygon points="453.70,277.97 465.85,270.97 465.85,284.97" fill="#CC9900"/>
<polygon points="466.90,32.28 479.05,25.28 479.05,39.28" fill="#CC9900"/>
<polygon points="480.10,32.28 492.25,25.28 492.25,39.28" fill="#CC9900"/>
<polygon points="493.30,32.28 505.45,25.28 505.45,39.28" fill="#CC9900"/>
<polygon points="506.50,32.28 518.65,25.28 518.65,39.28" fill="#CC9900"/>
<polygon points="519.70,32.28 531.85,25.28 531.85,39.28" fill="#CC9900"/>
<polygon points="532.90,32.28 545.05,25.28 545.05,39.28" fill="#CC9900"/>
<polygon points="546.10,32.28 558.25,25.28 558.25,39.28" fill="#CC9900"/>
<polygon points="559.30,32.28 571.45,25.28 571.45,39.28" fill="#CC9900"/>
<polygon points="572.50,32.28 584.65,25.28 584.65,39.28" fill="#CC9900"/>
<polygon points="585.70,32.28 597.85,25.28 597.85,39.28" fill="#CC9900"/>
<polygon points="598.90,32.28 611.05,25.28 611.05,39.28" fill="#CC9900"/>
<polygon points="612.10,32.28 624.25,25.28 624.25,39.28" fill="#CC9900"/>
<polygon points="625.30,32.28 637.45,25.28 637.45,39.28" fill="#CC9900"/>
<polygon points="638.50,32.28 650.65,25.28 650.65,39.28" fill="#CC9900"/>
<polygon points="651.70,32.28 663.85,25.28 663.85,39.28" fill="#CC9900"/>
<polygon points="664.90,32.28 677.05,25.28 677.05,39.28" fill="#CC9900"/>
<polyline points="422.20,286.68 435.40,286.68 448.60,286.68 461.80,286.68 475.00,32.28 488.20,32.28 501.40,32.28 514.60,32.28 527.80,32.28 541.00,32.28 554.20,32.28 567.40,32.28 580.60,32.28 593.80,32.28 607.00,32.28 620.20,32.28 633.40,32.28 646.60,32.28 659.80,32.28 673.00,32.28" fill="none" stroke="#00CBCC" stroke-width="0.75"/>
<polygon points="430.30,286.68 418.15,279.68 418.15,293.68" fill="#00CBCC"/>
<polygon points="443.50,286.68 431.35,279.68 431.35,293.68" fill="#00CBCC"/>
<polygon points="456.70,286.68 444.55,279.68 444.55,293.68" fill="#00CBCC"/>
<polygon points="469.90,286.68 457.75,279.68 457.75,293.68" fill="#00CBCC"/>
<polygon points="483.10,32.28 470.95,25.28 470.95,39.28" fill="#00CBCC"/>
<polygon points="496.30,32.28 484.15,25.28 484.15,39.28" fill="#00CBCC"/>
<polygon points="509.50,32.28 497.35,25.28 497.35,39.28" fill="#00CBCC"/>
<polygon points="522.70,32.28 510.55,25.28 510.55,39.28" fill="#00CBCC"/>
<polygon points="535.90,32.28 523.75,25.28 523.75,39.28" fill="#00CBCC"/>
<polygon points="549.10,32.28 536.95,25.28 536.95,39.28" fill="#00CBCC"/>
<polygon points="562.30,32.28 550.15,25.28 550.15,39.28" fill="#00CBCC"/>
<polygon points="575.50,32.28 563.35,25.28 563.35,39.28" fill="#00CBCC"/>
<polygon points="588.70,32.28 576.55,25.28 576.55,39.28" fill="#00CBCC"/>
<polygon points="601.90,32.28 589.75,25.28 589.75,39.28" fill="#00CBCC"/>
<polygon points="615.10,32.28 602.95,25.28 602.95,39.28" fill="#00CBCC"/>
<polygon points="628.30,32.28 616.15,25.28 616.15,39.28" fill="#00CBCC"/>
<polygon points="641.50,32.28 629.35,25.28 629.35,39.28" fill="#00CBCC"/>
<polygon points="654.70,32.28 642.55,25.28 642.55,39.28" fill="#00CBCC"/>
<polygon points="667.90,32.28 655.75,25.28 655.75,39.28" fill="#00CBCC"/>
<polygon points="681.10,32.28 668.95,25.28 668.95,39.28" fill="#00CBCC"/>
<polyline points="422.20,285.36 435.40,280.08 448.60,264.25 461.80,257.39 475.00,248.42 488.20,32.28 501.40,32.28 514.60,32.28 527.80,32.28 541.00,32.28 554.20,32.28 567.40,32.28 580.60,32.28 593.80,32.28 607.00,32.28 620.20,32.28 633.40,32.28 646.60,32.28 659.80,32.28 673.00,32.28" fill="none" stroke="#7D4E4E" stroke-width="0.75"/>
<polygon points="422.20,279.01 428.20,282.19 428.20,288.53 422.20,291.71 416.20,288.53 416.20,282.19" fill="#7D4E4E"/>
<polygon points="435.40,273.73 441.40,276.91 441.40,283.25 435.40,286.43 429.40,283.25 429.40,276.91" fill="#7D4E4E"/>
<polygon points="448.60,257.90 454.60,261.08 454.60,267.42 448.60,270.60 442.60,267.42 442.60,261.08" fill="#7D4E4E"/>
<polygon points="461.80,251.04 467.80,254.22 467.80,260.56 461.80,263.74 455.80,260.56 455.80,254.22" fill="#7D4E4E"/>
<polygon points="475.00,242.07 481.00,245.25 481.00,251.59 475.00,254.77 469.00,251.59 469.00,245.25" fill="#7D4E4E"/>
<polygon points="488.20,25.93 494.20,29.11 494.20,35.45 488.20,38.63 482.20,35.45 482.20,29.11" fill="#7D4E4E"/>
<polygon points="501.40,25.93 507.40,29.11 507.40,35.45 501.40,38.63 495.40,35.45 495.40,29.11" fill="#7D4E4E"/>
<polygon points="514.60,25.93 520.60,29.11 520.60,35.45 514.60,38.63 508.60,35.45 508.60,29.11" fill="#7D4E4E"/>
<polygon points="527.80,25.93 533.80,29.11 533.80,35.45 527.80,38.63 521.80,35.45 521.80,29.11" fill="#7D4E4E"/>
<polygon points="541.00,25.93 547.00,29.11 547.00,35.45 541.00,38.63 535.00,35.45 535.00,29.11" fill="#7D4E4E"/>
<polygon points="554.20,25.93 560.20,29.11 560.20,35.45 554.20,38.63 548.20,35.45 548.20,29.11" fill="#7D4E4E"/>
<polygon points="567.40,25.93 573.40,29.11 573.40,35.45 567.40,38.63 561.40,35.45 561.40,29.11" fill="#7D4E4E"/>
<polygon points="580.60,25.93 586.60,29.11 586.60,35.45 580.60,38.63 574.60,35.45 574.60,29.11" fill="#7D4E4E"/>
<polygon points="593.80,25.93 599.80,29.11 599.80,35.45 593.80,38.63 587.80,35.45 587.80,29.11" fill="#7D4E4E"/>
<polygon points="607.00,25.93 613.00,29.11 613.00,35.45 607.00,38.63 601.00,35.45 601.00,29.11" fill="#7D4E4E"/>
<polygon points="620.20,25.93 626.20,29.11 626.20,35.45 620.20,38.63 614.20,35.45 614.20,29.11" fill="#7D4E4E"/>
<polygon points="633.40,25.93 639.40,29.11 639.40,35.45 633.40,38.63 627.40,35.45 627.40,29.11" fill="#7D4E4E"/>
<polygon points="646.60,25.93 652.60,29.11 652.60,35.45 646.60,38.63 640.60,35.45 640.60,29.11" fill="#7D4E4E"/>
<polygon points="659.80,25.93 665.80,29.11 665.80,35.45 659.80,38.63 653.80,35.45 653.80,29.11" fill="#7D4E4E"/>
<polygon points="673.00,25.93 679.00,29.11 679.00,35.45 673.00,38.63 667.00,35.45 667.00,29.11" fill="#7D4E4E"/>
<polyline points="422.20,285.36 435.40,276.92 448.60,271.11 461.80,261.08 475.00,255.28 488.20,32.28 501.40,32.28 514.60,32.28 527.80,32.28 541.00,32.28 554.20,32.28 567.40,32.28 580.60,32.28 593.80,32.28 607.00,32.28 620.20,32.28 633.40,32.28 646.60,32.28 659.80,32.28 673.00,32.28" fill="none" stroke="#8E8E00" stroke-width="0.75"/>
<polygon points="422.20,278.56 424.00,282.89 428.67,283.26 425.11,286.31 426.20,290.86 422.20,288.42 418.20,290.86 419.29,286.31 415.73,283.26 420.40,282.89" fill="#8E8E00" stroke="#8E8E00" stroke-width="0.4"/>
<polygon points="435.40,270.12 437.20,274.44 441.87,274.81 438.31,277.86 439.40,282.42 435.40,279.98 431.40,282.42 432.49,277.86 428.93,274.81 433.60,274.44" fill="#8E8E00" stroke="#8E8E00" stroke-width="0.4"/>
<polygon points="448.60,264.31 450.40,268.63 455.07,269.01 451.51,272.06 452.60,276.61 448.60,274.17 444.60,276.61 445.69,272.06 442.13,269.01 446.80,268.63" fill="#8E8E00" stroke="#8E8E00" stroke-width="0.4"/>
<polygon points="461.80,254.28 463.60,258.61 468.27,258.98 464.71,262.03 465.80,266.58 461.80,264.14 457.80,266.58 458.89,262.03 455.33,258.98 460.00,258.61" fill="#8E8E00" stroke="#8E8E00" stroke-width="0.4"/>
<polygon points="475.00,248.48 476.80,252.80 481.47,253.18 477.91,256.22 479.00,260.78 475.00,258.34 471.00,260.78 472.09,256.22 468.53,253.18 473.20,252.80" fill="#8E8E00" stroke="#8E8E00" stroke-width="0.4"/>
<polygon points="488.20,25.48 490.00,29.81 494.67,30.18 491.11,33.23 492.20,37.78 488.20,35.34 484.20,37.78 485.29,33.23 481.73,30.18 486.40,29.81" fill="#8E8E00" stroke="#8E8E00" stroke-width="0.4"/>
<polygon points="501.40,25.48 503.20,29.81 507.87,30.18 504.31,33.23 505.40,37.78 501.40,35.34 497.40,37.78 498.49,33.23 494.93,30.18 499.60,29.81" fill="#8E8E00" stroke="#8E8E00" stroke-width="0.4"/>
<polygon points="514.60,25.48 516.40,29.81 521.07,30.18 517.51,33.23 518.60,37.78 514.60,35.34 510.60,37.78 511.69,33.23 508.13,30.18 512.80,29.81" fill="#8E8E00" stroke="#8E8E00" stroke-width="0.4"/>
<polygon points="527.80,25.48 529.60,29.81 534.27,30.18 530.71,33.23 531.80,37.78 527.80,35.34 523.80,37.78 524.89,33.23 521.33,30.18 526.00,29.81" fill="#8E8E00" stroke="#8E8E00" stroke-width="0.4"/>
<polygon points="541.00,25.48 542.80,29.81 547.47,30.18 543.91,33.23 545.00,37.78 541.00,35.34 537.00,37.78 538.09,33.23 534.53,30.18 539.20,29.81" fill="#8E8E00" stroke="#8E8E00" stroke-width="0.4"/>
<polygon points="554.20,25.48 556.00,29.81 560.67,30.18 557.11,33.23 558.20,37.78 554.20,35.34 550.20,37.78 551.29,33.23 547.73,30.18 552.40,29.81" fill="#8E8E00" stroke="#8E8E00" stroke-width="0.4"/>
<polygon points="567.40,25.48 569.20,29.81 573.87,30.18 570.31,33.23 571.40,37.78 567.40,35.34 563.40,37.78 564.49,33.23 560.93,30.18 565.60,29.81" fill="#8E8E00" stroke="#8E8E00" stroke-width="0.4"/>
<polygon points="580.60,25.48 582.40,29.81 587.07,30.18 583.51,33.23 584.60,37.78 580.60,35.34 576.60,37.78 577.69,33.23 574.13,30.18 578.80,29.81" fill="#8E8E00" stroke="#8E8E00" stroke-width="0.4"/>
<polygon points="593.80,25.48 595.60,29.81 600.27,30.18 596.71,33.23 597.80,37.78 593.80,35.34 589.80,37.78 590.89,33.23 587.33,30.18 592.00,29.81" fill="#8E8E00" stroke="#8E8E00" stroke-width="0.4"/>
<polygon points="607.00,25.48 608.80,29.81 613.47,30.18 609.91,33.23 611.00,37.78 607.00,35.34 603.00,37.78 604.09,33.23 600.53,30.18 605.20,29.81" fill="#8E8E00" stroke="#8E8E00" stroke-width="0.4"/>
<polygon points="620.20,25.48 622.00,29.81 626.67,30.18 623.11,33.23 624.20,37.78 620.20,35.34 616.20,37.78 617.29,33.23 613.73,30.18 618.40,29.81" fill="#8E8E00" stroke="#8E8E00" stroke-width="0.4"/>
<polygon points="633.40,25.48 635.20,29.81 639.87,30.18 636.31,33.23 637.40,37.78 633.40,35.34 629.40,37.78 630.49,33.23 626.93,30.18 631.60,29.81" fill="#8E8E00" stroke="#8E8E00" stroke-width="0.4"/>
<polygon points="646.60,25.48 648.40,29.81 653.07,30.18 649.51,33.23 650.60,37.78 646.60,35.34 642.60,37.78 643.69,33.23 640.13,30.18 644.80,29.81" fill="#8E8E00" stroke="#8E8E00" stroke-width="0.4"/>
<polygon points="659.80,25.48 661.60,29.81 666.27,30.18 662.71,33.23 663.80,37.78 659.80,35.34 655.80,37.78 656.89,33.23 653.33,30.18 658.00,29.81" fill="#8E8E00" stroke="#8E8E00" stroke-width="0.4"/>
<polygon points="673.00,25.48 674.80,29.81 679.47,30.18 675.91,33.23 677.00,37.78 673.00,35.34 669.00,37.78 670.09,33.23 666.53,30.18 671.20,29.81" fill="#8E8E00" stroke="#8E8E00" stroke-width="0.4"/>
<polyline points="422.20,285.89 435.40,285.36 448.60,285.36 461.80,283.25 475.00,281.67 488.20,32.28 501.40,32.28 514.60,32.28 527.80,32.28 541.00,32.28 554.20,32.28 567.40,32.28 580.60,32.28 593.80,32.28 607.00,32.28 620.20,32.28 633.40,32.28 646.60,32.28 659.80,32.28 673.00,32.28" fill="none" stroke="#FB6501" stroke-width="0.75"/>
<polygon points="422.20,279.14 428.62,283.80 426.17,291.35 418.23,291.35 415.78,283.80" fill="#FB6501"/>
<polygon points="435.40,278.61 441.82,283.28 439.37,290.82 431.43,290.82 428.98,283.28" fill="#FB6501"/>
<polygon points="448.60,278.61 455.02,283.28 452.57,290.82 444.63,290.82 442.18,283.28" fill="#FB6501"/>
<polygon points="461.80,276.50 468.22,281.16 465.77,288.71 457.83,288.71 455.38,281.16" fill="#FB6501"/>
<polygon points="475.00,274.92 481.42,279.58 478.97,287.13 471.03,287.13 468.58,279.58" fill="#FB6501"/>
<polygon points="488.20,25.53 494.62,30.20 492.17,37.74 484.23,37.74 481.78,30.20" fill="#FB6501"/>
<polygon points="501.40,25.53 507.82,30.20 505.37,37.74 497.43,37.74 494.98,30.20" fill="#FB6501"/>
<polygon points="514.60,25.53 521.02,30.20 518.57,37.74 510.63,37.74 508.18,30.20" fill="#FB6501"/>
<polygon points="527.80,25.53 534.22,30.20 531.77,37.74 523.83,37.74 521.38,30.20" fill="#FB6501"/>
<polygon points="541.00,25.53 547.42,30.20 544.97,37.74 537.03,37.74 534.58,30.20" fill="#FB6501"/>
<polygon points="554.20,25.53 560.62,30.20 558.17,37.74 550.23,37.74 547.78,30.20" fill="#FB6501"/>
<polygon points="567.40,25.53 573.82,30.20 571.37,37.74 563.43,37.74 560.98,30.20" fill="#FB6501"/>
<polygon points="580.60,25.53 587.02,30.20 584.57,37.74 576.63,37.74 574.18,30.20" fill="#FB6501"/>
<polygon points="593.80,25.53 600.22,30.20 597.77,37.74 589.83,37.74 587.38,30.20" fill="#FB6501"/>
<polygon points="607.00,25.53 613.42,30.20 610.97,37.74 603.03,37.74 600.58,30.20" fill="#FB6501"/>
<polygon points="620.20,25.53 626.62,30.20 624.17,37.74 616.23,37.74 613.78,30.20" fill="#FB6501"/>
<polygon points="633.40,25.53 639.82,30.20 637.37,37.74 629.43,37.74 626.98,30.20" fill="#FB6501"/>
<polygon points="646.60,25.53 653.02,30.20 650.57,37.74 642.63,37.74 640.18,30.20" fill="#FB6501"/>
<polygon points="659.80,25.53 666.22,30.20 663.77,37.74 655.83,37.74 653.38,30.20" fill="#FB6501"/>
<polygon points="673.00,25.53 679.42,30.20 676.97,37.74 669.03,37.74 666.58,30.20" fill="#FB6501"/>
</g>
<text x="393.30" y="294.10" text-anchor="end" class="tl">0.0</text>
<text x="409.10" y="318.90" text-anchor="middle" class="tl">0.0</text>
<text x="393.30" y="241.32" text-anchor="end" class="tl">0.2</text>
<text x="461.90" y="318.90" text-anchor="middle" class="tl">0.2</text>
<text x="393.30" y="188.54" text-anchor="end" class="tl">0.4</text>
<text x="514.70" y="318.90" text-anchor="middle" class="tl">0.4</text>
<text x="393.30" y="135.76" text-anchor="end" class="tl">0.6</text>
<text x="567.50" y="318.90" text-anchor="middle" class="tl">0.6</text>
<text x="393.30" y="82.98" text-anchor="end" class="tl">0.8</text>
<text x="620.30" y="318.90" text-anchor="middle" class="tl">0.8</text>
<text x="393.30" y="30.20" text-anchor="end" class="tl">1.0</text>
<text x="673.10" y="318.90" text-anchor="middle" class="tl">1.0</text>
<text transform="translate(541.60,345.45) scale(0.935,1)" text-anchor="middle" class="at">Export Shrinkage Proportion</text>
<text transform="translate(356.80,158.65) rotate(-90) scale(0.941,1)" text-anchor="middle" class="at">Avalanche Ratio</text>
<text transform="translate(408.50,13.90) scale(0.927,1)" class="pt">(b) 2013</text>
<path d="M608.30,49.25H634.20" stroke="#515151" stroke-width="0.7"/>
<rect x="616.05" y="44.10" width="10.30" height="10.30" fill="#515151"/>
<text x="636.80" y="52.80" class="lg">CHN</text>
<path d="M608.30,63.30H634.20" stroke="#F14040" stroke-width="0.7"/>
<circle cx="621.20" cy="63.30" r="5.95" fill="#F14040"/>
<text x="636.80" y="66.85" class="lg">TWN</text>
<path d="M608.30,77.35H634.20" stroke="#1A6FDF" stroke-width="0.7"/>
<polygon points="621.20,69.25 614.20,81.40 628.20,81.40" fill="#1A6FDF"/>
<text x="636.80" y="80.90" class="lg">USA</text>
<path d="M608.30,91.40H634.20" stroke="#37AD6B" stroke-width="0.7"/>
<polygon points="621.20,99.50 614.20,87.35 628.20,87.35" fill="#37AD6B"/>
<text x="636.80" y="94.95" class="lg">DEU</text>
<path d="M608.30,105.45H634.20" stroke="#B177DE" stroke-width="0.7"/>
<polygon points="621.20,98.45 628.20,105.45 621.20,112.45 614.20,105.45" fill="#B177DE"/>
<text x="636.80" y="109.00" class="lg">SGP</text>
<path d="M608.30,119.50H634.20" stroke="#CC9900" stroke-width="0.7"/>
<polygon points="613.10,119.50 625.25,112.50 625.25,126.50" fill="#CC9900"/>
<text x="636.80" y="123.05" class="lg">HKG</text>
<path d="M608.30,133.55H634.20" stroke="#00CBCC" stroke-width="0.7"/>
<polygon points="629.30,133.55 617.15,126.55 617.15,140.55" fill="#00CBCC"/>
<text x="636.80" y="137.10" class="lg">CRI</text>
<path d="M608.30,147.60H634.20" stroke="#7D4E4E" stroke-width="0.7"/>
<polygon points="621.20,141.25 627.20,144.43 627.20,150.77 621.20,153.95 615.20,150.77 615.20,144.43" fill="#7D4E4E"/>
<text x="636.80" y="151.15" class="lg">NLD</text>
<path d="M608.30,161.65H634.20" stroke="#8E8E00" stroke-width="0.7"/>
<polygon points="621.20,154.85 623.00,159.17 627.67,159.55 624.11,162.60 625.20,167.15 621.20,164.71 617.20,167.15 618.29,162.60 614.73,159.55 619.40,159.17" fill="#8E8E00" stroke="#8E8E00" stroke-width="0.4"/>
<text x="636.80" y="165.20" class="lg">FRA</text>
<path d="M608.30,175.70H634.20" stroke="#FB6501" stroke-width="0.7"/>
<polygon points="621.20,168.95 627.62,173.61 625.17,181.16 617.23,181.16 614.78,173.61" fill="#FB6501"/>
<text x="636.80" y="179.25" class="lg">KOR</text>
<path d="M56.60,383.75H330.15M56.60,647.10H330.15M65.60,383.75V655.80M329.15,383.75V655.80" fill="none" stroke="#000" stroke-width="1.9"/>
<path d="M60.90,620.76H65.6M324.45,620.76H329.15M91.95,647.1V651.80M91.95,383.75V388.45M56.60,594.43H65.6M320.15,594.43H329.15M118.31,647.1V655.80M118.31,383.75V392.45M60.90,568.10H65.6M324.45,568.10H329.15M144.66,647.1V651.80M144.66,383.75V388.45M56.60,541.76H65.6M320.15,541.76H329.15M171.02,647.1V655.80M171.02,383.75V392.45M60.90,515.42H65.6M324.45,515.42H329.15M197.38,647.1V651.80M197.38,383.75V388.45M56.60,489.09H65.6M320.15,489.09H329.15M223.73,647.1V655.80M223.73,383.75V392.45M60.90,462.75H65.6M324.45,462.75H329.15M250.08,647.1V651.80M250.08,383.75V388.45M56.60,436.42H65.6M320.15,436.42H329.15M276.44,647.1V655.80M276.44,383.75V392.45M60.90,410.09H65.6M324.45,410.09H329.15M302.80,647.1V651.80M302.80,383.75V388.45" fill="none" stroke="#000" stroke-width="1.9"/>
<clipPath id="cp2"><rect x="65.6" y="383.75" width="264.55" height="263.65000000000003"/></clipPath>
<g clip-path="url(#cp2)">
<polyline points="78.78,644.99 91.95,641.83 105.13,387.70 118.31,387.70 131.49,387.70 144.66,387.70 157.84,387.70 171.02,387.70 184.20,387.70 197.38,387.70 210.55,387.70 223.73,387.70 236.91,387.70 250.08,387.70 263.26,387.70 276.44,387.70 289.62,387.70 302.80,387.70 315.97,387.70 329.15,387.70" fill="none" stroke="#515151" stroke-width="0.75"/>
<rect x="73.63" y="639.84" width="10.30" height="10.30" fill="#515151"/>
<rect x="86.80" y="636.68" width="10.30" height="10.30" fill="#515151"/>
<rect x="99.98" y="382.55" width="10.30" height="10.30" fill="#515151"/>
<rect x="113.16" y="382.55" width="10.30" height="10.30" fill="#515151"/>
<rect x="126.34" y="382.55" width="10.30" height="10.30" fill="#515151"/>
<rect x="139.51" y="382.55" width="10.30" height="10.30" fill="#515151"/>
<rect x="152.69" y="382.55" width="10.30" height="10.30" fill="#515151"/>
<rect x="165.87" y="382.55" width="10.30" height="10.30" fill="#515151"/>
<rect x="179.05" y="382.55" width="10.30" height="10.30" fill="#515151"/>
<rect x="192.22" y="382.55" width="10.30" height="10.30" fill="#515151"/>
<rect x="205.40" y="382.55" width="10.30" height="10.30" fill="#515151"/>
<rect x="218.58" y="382.55" width="10.30" height="10.30" fill="#515151"/>
<rect x="231.76" y="382.55" width="10.30" height="10.30" fill="#515151"/>
<rect x="244.93" y="382.55" width="10.30" height="10.30" fill="#515151"/>
<rect x="258.11" y="382.55" width="10.30" height="10.30" fill="#515151"/>
<rect x="271.29" y="382.55" width="10.30" height="10.30" fill="#515151"/>
<rect x="284.47" y="382.55" width="10.30" height="10.30" fill="#515151"/>
<rect x="297.65" y="382.55" width="10.30" height="10.30" fill="#515151"/>
<rect x="310.82" y="382.55" width="10.30" height="10.30" fill="#515151"/>
<rect x="324.00" y="382.55" width="10.30" height="10.30" fill="#515151"/>
<polyline points="78.78,644.47 91.95,637.36 105.13,631.04 118.31,387.70 131.49,387.70 144.66,387.70 157.84,387.70 171.02,387.70 184.20,387.70 197.38,387.70 210.55,387.70 223.73,387.70 236.91,387.70 250.08,387.70 263.26,387.70 276.44,387.70 289.62,387.70 302.80,387.70 315.97,387.70 329.15,387.70" fill="none" stroke="#F14040" stroke-width="0.75"/>
<circle cx="78.78" cy="644.47" r="5.95" fill="#F14040"/>
<circle cx="91.95" cy="637.36" r="5.95" fill="#F14040"/>
<circle cx="105.13" cy="631.04" r="5.95" fill="#F14040"/>
<circle cx="118.31" cy="387.70" r="5.95" fill="#F14040"/>
<circle cx="131.49" cy="387.70" r="5.95" fill="#F14040"/>
<circle cx="144.66" cy="387.70" r="5.95" fill="#F14040"/>
<circle cx="157.84" cy="387.70" r="5.95" fill="#F14040"/>
<circle cx="171.02" cy="387.70" r="5.95" fill="#F14040"/>
<circle cx="184.20" cy="387.70" r="5.95" fill="#F14040"/>
<circle cx="197.38" cy="387.70" r="5.95" fill="#F14040"/>
<circle cx="210.55" cy="387.70" r="5.95" fill="#F14040"/>
<circle cx="223.73" cy="387.70" r="5.95" fill="#F14040"/>
<circle cx="236.91" cy="387.70" r="5.95" fill="#F14040"/>
<circle cx="250.08" cy="387.70" r="5.95" fill="#F14040"/>
<circle cx="263.26" cy="387.70" r="5.95" fill="#F14040"/>
<circle cx="276.44" cy="387.70" r="5.95" fill="#F14040"/>
<circle cx="289.62" cy="387.70" r="5.95" fill="#F14040"/>
<circle cx="302.80" cy="387.70" r="5.95" fill="#F14040"/>
<circle cx="315.97" cy="387.70" r="5.95" fill="#F14040"/>
<circle cx="329.15" cy="387.70" r="5.95" fill="#F14040"/>
<polyline points="78.78,644.99 91.95,643.15 105.13,639.20 118.31,387.70 131.49,387.70 144.66,387.70 157.84,387.70 171.02,387.70 184.20,387.70 197.38,387.70 210.55,387.70 223.73,387.70 236.91,387.70 250.08,387.70 263.26,387.70 276.44,387.70 289.62,387.70 302.80,387.70 315.97,387.70 329.15,387.70" fill="none" stroke="#1A6FDF" stroke-width="0.75"/>
<polygon points="78.78,636.89 71.78,649.04 85.78,649.04" fill="#1A6FDF"/>
<polygon points="91.95,635.05 84.95,647.20 98.95,647.20" fill="#1A6FDF"/>
<polygon points="105.13,631.10 98.13,643.25 112.13,643.25" fill="#1A6FDF"/>
<polygon points="118.31,379.60 111.31,391.75 125.31,391.75" fill="#1A6FDF"/>
<polygon points="131.49,379.60 124.49,391.75 138.49,391.75" fill="#1A6FDF"/>
<polygon points="144.66,379.60 137.66,391.75 151.66,391.75" fill="#1A6FDF"/>
<polygon points="157.84,379.60 150.84,391.75 164.84,391.75" fill="#1A6FDF"/>
<polygon points="171.02,379.60 164.02,391.75 178.02,391.75" fill="#1A6FDF"/>
<polygon points="184.20,379.60 177.20,391.75 191.20,391.75" fill="#1A6FDF"/>
<polygon points="197.38,379.60 190.38,391.75 204.38,391.75" fill="#1A6FDF"/>
<polygon points="210.55,379.60 203.55,391.75 217.55,391.75" fill="#1A6FDF"/>
<polygon points="223.73,379.60 216.73,391.75 230.73,391.75" fill="#1A6FDF"/>
<polygon points="236.91,379.60 229.91,391.75 243.91,391.75" fill="#1A6FDF"/>
<polygon points="250.08,379.60 243.08,391.75 257.08,391.75" fill="#1A6FDF"/>
<polygon points="263.26,379.60 256.26,391.75 270.26,391.75" fill="#1A6FDF"/>
<polygon points="276.44,379.60 269.44,391.75 283.44,391.75" fill="#1A6FDF"/>
<polygon points="289.62,379.60 282.62,391.75 296.62,391.75" fill="#1A6FDF"/>
<polygon points="302.80,379.60 295.80,391.75 309.80,391.75" fill="#1A6FDF"/>
<polygon points="315.97,379.60 308.97,391.75 322.97,391.75" fill="#1A6FDF"/>
<polygon points="329.15,379.60 322.15,391.75 336.15,391.75" fill="#1A6FDF"/>
<polyline points="78.78,644.99 91.95,643.15 105.13,639.20 118.31,387.70 131.49,387.70 144.66,387.70 157.84,387.70 171.02,387.70 184.20,387.70 197.38,387.70 210.55,387.70 223.73,387.70 236.91,387.70 250.08,387.70 263.26,387.70 276.44,387.70 289.62,387.70 302.80,387.70 315.97,387.70 329.15,387.70" fill="none" stroke="#37AD6B" stroke-width="0.75"/>
<polygon points="78.78,653.09 71.78,640.94 85.78,640.94" fill="#37AD6B"/>
<polygon points="91.95,651.25 84.95,639.10 98.95,639.10" fill="#37AD6B"/>
<polygon points="105.13,647.30 98.13,635.15 112.13,635.15" fill="#37AD6B"/>
<polygon points="118.31,395.80 111.31,383.65 125.31,383.65" fill="#37AD6B"/>
<polygon points="131.49,395.80 124.49,383.65 138.49,383.65" fill="#37AD6B"/>
<polygon points="144.66,395.80 137.66,383.65 151.66,383.65" fill="#37AD6B"/>
<polygon points="157.84,395.80 150.84,383.65 164.84,383.65" fill="#37AD6B"/>
<polygon points="171.02,395.80 164.02,383.65 178.02,383.65" fill="#37AD6B"/>
<polygon points="184.20,395.80 177.20,383.65 191.20,383.65" fill="#37AD6B"/>
<polygon points="197.38,395.80 190.38,383.65 204.38,383.65" fill="#37AD6B"/>
<polygon points="210.55,395.80 203.55,383.65 217.55,383.65" fill="#37AD6B"/>
<polygon points="223.73,395.80 216.73,383.65 230.73,383.65" fill="#37AD6B"/>
<polygon points="236.91,395.80 229.91,383.65 243.91,383.65" fill="#37AD6B"/>
<polygon points="250.08,395.80 243.08,383.65 257.08,383.65" fill="#37AD6B"/>
<polygon points="263.26,395.80 256.26,383.65 270.26,383.65" fill="#37AD6B"/>
<polygon points="276.44,395.80 269.44,383.65 283.44,383.65" fill="#37AD6B"/>
<polygon points="289.62,395.80 282.62,383.65 296.62,383.65" fill="#37AD6B"/>
<polygon points="302.80,395.80 295.80,383.65 309.80,383.65" fill="#37AD6B"/>
<polygon points="315.97,395.80 308.97,383.65 322.97,383.65" fill="#37AD6B"/>
<polygon points="329.15,395.80 322.15,383.65 336.15,383.65" fill="#37AD6B"/>
<polyline points="78.78,644.99 91.95,643.15 105.13,639.20 118.31,613.65 131.49,387.70 144.66,387.70 157.84,387.70 171.02,387.70 184.20,387.70 197.38,387.70 210.55,387.70 223.73,387.70 236.91,387.70 250.08,387.70 263.26,387.70 276.44,387.70 289.62,387.70 302.80,387.70 315.97,387.70 329.15,387.70" fill="none" stroke="#B177DE" stroke-width="0.75"/>
<polygon points="78.78,637.99 85.78,644.99 78.78,651.99 71.78,644.99" fill="#B177DE"/>
<polygon points="91.95,636.15 98.95,643.15 91.95,650.15 84.95,643.15" fill="#B177DE"/>
<polygon points="105.13,632.20 112.13,639.20 105.13,646.20 98.13,639.20" fill="#B177DE"/>
<polygon points="118.31,606.65 125.31,613.65 118.31,620.65 111.31,613.65" fill="#B177DE"/>
<polygon points="131.49,380.70 138.49,387.70 131.49,394.70 124.49,387.70" fill="#B177DE"/>
<polygon points="144.66,380.70 151.66,387.70 144.66,394.70 137.66,387.70" fill="#B177DE"/>
<polygon points="157.84,380.70 164.84,387.70 157.84,394.70 150.84,387.70" fill="#B177DE"/>
<polygon points="171.02,380.70 178.02,387.70 171.02,394.70 164.02,387.70" fill="#B177DE"/>
<polygon points="184.20,380.70 191.20,387.70 184.20,394.70 177.20,387.70" fill="#B177DE"/>
<polygon points="197.38,380.70 204.38,387.70 197.38,394.70 190.38,387.70" fill="#B177DE"/>
<polygon points="210.55,380.70 217.55,387.70 210.55,394.70 203.55,387.70" fill="#B177DE"/>
<polygon points="223.73,380.70 230.73,387.70 223.73,394.70 216.73,387.70" fill="#B177DE"/>
<polygon points="236.91,380.70 243.91,387.70 236.91,394.70 229.91,387.70" fill="#B177DE"/>
<polygon points="250.08,380.70 257.08,387.70 250.08,394.70 243.08,387.70" fill="#B177DE"/>
<polygon points="263.26,380.70 270.26,387.70 263.26,394.70 256.26,387.70" fill="#B177DE"/>
<polygon points="276.44,380.70 283.44,387.70 276.44,394.70 269.44,387.70" fill="#B177DE"/>
<polygon points="289.62,380.70 296.62,387.70 289.62,394.70 282.62,387.70" fill="#B177DE"/>
<polygon points="302.80,380.70 309.80,387.70 302.80,394.70 295.80,387.70" fill="#B177DE"/>
<polygon points="315.97,380.70 322.97,387.70 315.97,394.70 308.97,387.70" fill="#B177DE"/>
<polygon points="329.15,380.70 336.15,387.70 329.15,394.70 322.15,387.70" fill="#B177DE"/>
<polyline points="78.78,644.99 91.95,643.94 105.13,641.83 118.31,635.51 131.49,387.70 144.66,387.70 157.84,387.70 171.02,387.70 184.20,387.70 197.38,387.70 210.55,387.70 223.73,387.70 236.91,387.70 250.08,387.70 263.26,387.70 276.44,387.70 289.62,387.70 302.80,387.70 315.97,387.70 329.15,387.70" fill="none" stroke="#CC9900" stroke-width="0.75"/>
<polygon points="70.68,644.99 82.83,637.99 82.83,651.99" fill="#CC9900"/>
<polygon points="83.86,643.94 96.00,636.94 96.00,650.94" fill="#CC9900"/>
<polygon points="97.03,641.83 109.18,634.83 109.18,648.83" fill="#CC9900"/>
<polygon points="110.21,635.51 122.36,628.51 122.36,642.51" fill="#CC9900"/>
<polygon points="123.39,387.70 135.54,380.70 135.54,394.70" fill="#CC9900"/>
<polygon points="136.56,387.70 148.72,380.70 148.72,394.70" fill="#CC9900"/>
<polygon points="149.74,387.70 161.89,380.70 161.89,394.70" fill="#CC9900"/>
<polygon points="162.92,387.70 175.07,380.70 175.07,394.70" fill="#CC9900"/>
<polygon points="176.10,387.70 188.25,380.70 188.25,394.70" fill="#CC9900"/>
<polygon points="189.28,387.70 201.43,380.70 201.43,394.70" fill="#CC9900"/>
<polygon points="202.45,387.70 214.60,380.70 214.60,394.70" fill="#CC9900"/>
<polygon points="215.63,387.70 227.78,380.70 227.78,394.70" fill="#CC9900"/>
<polygon points="228.81,387.70 240.96,380.70 240.96,394.70" fill="#CC9900"/>
<polygon points="241.98,387.70 254.13,380.70 254.13,394.70" fill="#CC9900"/>
<polygon points="255.16,387.70 267.31,380.70 267.31,394.70" fill="#CC9900"/>
<polygon points="268.34,387.70 280.49,380.70 280.49,394.70" fill="#CC9900"/>
<polygon points="281.52,387.70 293.67,380.70 293.67,394.70" fill="#CC9900"/>
<polygon points="294.69,387.70 306.85,380.70 306.85,394.70" fill="#CC9900"/>
<polygon points="307.87,387.70 320.02,380.70 320.02,394.70" fill="#CC9900"/>
<polygon points="321.05,387.70 333.20,380.70 333.20,394.70" fill="#CC9900"/>
<polyline points="78.78,643.94 91.95,640.52 105.13,606.28 118.31,481.72 131.49,479.08 144.66,476.19 157.84,470.66 171.02,387.70 184.20,387.70 197.38,387.70 210.55,387.70 223.73,387.70 236.91,387.70 250.08,387.70 263.26,387.70 276.44,387.70 289.62,387.70 302.80,387.70 315.97,387.70 329.15,387.70" fill="none" stroke="#00CBCC" stroke-width="0.75"/>
<polygon points="86.88,643.94 74.73,636.94 74.73,650.94" fill="#00CBCC"/>
<polygon points="100.05,640.52 87.91,633.52 87.91,647.52" fill="#00CBCC"/>
<polygon points="113.23,606.28 101.08,599.28 101.08,613.28" fill="#00CBCC"/>
<polygon points="126.41,481.72 114.26,474.72 114.26,488.72" fill="#00CBCC"/>
<polygon points="139.59,479.08 127.44,472.08 127.44,486.08" fill="#00CBCC"/>
<polygon points="152.76,476.19 140.61,469.19 140.61,483.19" fill="#00CBCC"/>
<polygon points="165.94,470.66 153.79,463.66 153.79,477.66" fill="#00CBCC"/>
<polygon points="179.12,387.70 166.97,380.70 166.97,394.70" fill="#00CBCC"/>
<polygon points="192.30,387.70 180.15,380.70 180.15,394.70" fill="#00CBCC"/>
<polygon points="205.47,387.70 193.32,380.70 193.32,394.70" fill="#00CBCC"/>
<polygon points="218.65,387.70 206.50,380.70 206.50,394.70" fill="#00CBCC"/>
<polygon points="231.83,387.70 219.68,380.70 219.68,394.70" fill="#00CBCC"/>
<polygon points="245.01,387.70 232.86,380.70 232.86,394.70" fill="#00CBCC"/>
<polygon points="258.19,387.70 246.03,380.70 246.03,394.70" fill="#00CBCC"/>
<polygon points="271.36,387.70 259.21,380.70 259.21,394.70" fill="#00CBCC"/>
<polygon points="284.54,387.70 272.39,380.70 272.39,394.70" fill="#00CBCC"/>
<polygon points="297.72,387.70 285.57,380.70 285.57,394.70" fill="#00CBCC"/>
<polygon points="310.90,387.70 298.75,380.70 298.75,394.70" fill="#00CBCC"/>
<polygon points="324.07,387.70 311.92,380.70 311.92,394.70" fill="#00CBCC"/>
<polygon points="337.25,387.70 325.10,380.70 325.10,394.70" fill="#00CBCC"/>
<polyline points="78.78,643.94 91.95,605.75 105.13,590.48 118.31,584.69 131.49,579.68 144.66,564.14 157.84,387.70 171.02,387.70 184.20,387.70 197.38,387.70 210.55,387.70 223.73,387.70 236.91,387.70 250.08,387.70 263.26,387.70 276.44,387.70 289.62,387.70 302.80,387.70 315.97,387.70 329.15,387.70" fill="none" stroke="#7D4E4E" stroke-width="0.75"/>
<polygon points="78.78,637.59 84.78,640.77 84.78,647.11 78.78,650.29 72.78,647.11 72.78,640.77" fill="#7D4E4E"/>
<polygon points="91.95,599.40 97.95,602.58 97.95,608.92 91.95,612.10 85.95,608.92 85.95,602.58" fill="#7D4E4E"/>
<polygon points="105.13,584.13 111.13,587.31 111.13,593.65 105.13,596.83 99.13,593.65 99.13,587.31" fill="#7D4E4E"/>
<polygon points="118.31,578.34 124.31,581.52 124.31,587.86 118.31,591.04 112.31,587.86 112.31,581.52" fill="#7D4E4E"/>
<polygon points="131.49,573.33 137.49,576.51 137.49,582.85 131.49,586.03 125.49,582.85 125.49,576.51" fill="#7D4E4E"/>
<polygon points="144.66,557.79 150.66,560.97 150.66,567.31 144.66,570.49 138.66,567.31 138.66,560.97" fill="#7D4E4E"/>
<polygon points="157.84,381.35 163.84,384.53 163.84,390.87 157.84,394.05 151.84,390.87 151.84,384.53" fill="#7D4E4E"/>
<polygon points="171.02,381.35 177.02,384.53 177.02,390.87 171.02,394.05 165.02,390.87 165.02,384.53" fill="#7D4E4E"/>
<polygon points="184.20,381.35 190.20,384.53 190.20,390.87 184.20,394.05 178.20,390.87 178.20,384.53" fill="#7D4E4E"/>
<polygon points="197.38,381.35 203.38,384.53 203.38,390.87 197.38,394.05 191.38,390.87 191.38,384.53" fill="#7D4E4E"/>
<polygon points="210.55,381.35 216.55,384.53 216.55,390.87 210.55,394.05 204.55,390.87 204.55,384.53" fill="#7D4E4E"/>
<polygon points="223.73,381.35 229.73,384.53 229.73,390.87 223.73,394.05 217.73,390.87 217.73,384.53" fill="#7D4E4E"/>
<polygon points="236.91,381.35 242.91,384.53 242.91,390.87 236.91,394.05 230.91,390.87 230.91,384.53" fill="#7D4E4E"/>
<polygon points="250.08,381.35 256.08,384.53 256.08,390.87 250.08,394.05 244.08,390.87 244.08,384.53" fill="#7D4E4E"/>
<polygon points="263.26,381.35 269.26,384.53 269.26,390.87 263.26,394.05 257.26,390.87 257.26,384.53" fill="#7D4E4E"/>
<polygon points="276.44,381.35 282.44,384.53 282.44,390.87 276.44,394.05 270.44,390.87 270.44,384.53" fill="#7D4E4E"/>
<polygon points="289.62,381.35 295.62,384.53 295.62,390.87 289.62,394.05 283.62,390.87 283.62,384.53" fill="#7D4E4E"/>
<polygon points="302.80,381.35 308.80,384.53 308.80,390.87 302.80,394.05 296.80,390.87 296.80,384.53" fill="#7D4E4E"/>
<polygon points="315.97,381.35 321.97,384.53 321.97,390.87 315.97,394.05 309.97,390.87 309.97,384.53" fill="#7D4E4E"/>
<polygon points="329.15,381.35 335.15,384.53 335.15,390.87 329.15,394.05 323.15,390.87 323.15,384.53" fill="#7D4E4E"/>
<polyline points="78.78,643.94 91.95,639.20 105.13,633.14 118.31,602.07 131.49,523.46 144.66,496.99 157.84,471.97 171.02,387.70 184.20,387.70 197.38,387.70 210.55,387.70 223.73,387.70 236.91,387.70 250.08,387.70 263.26,387.70 276.44,387.70 289.62,387.70 302.80,387.70 315.97,387.70 329.15,387.70" fill="none" stroke="#8E8E00" stroke-width="0.75"/>
<polygon points="78.78,637.14 80.58,641.46 85.24,641.84 81.69,644.89 82.77,649.44 78.78,647.00 74.78,649.44 75.87,644.89 72.31,641.84 76.98,641.46" fill="#8E8E00" stroke="#8E8E00" stroke-width="0.4"/>
<polygon points="91.95,632.40 93.75,636.72 98.42,637.10 94.87,640.15 95.95,644.70 91.95,642.26 87.96,644.70 89.04,640.15 85.49,637.10 90.16,636.72" fill="#8E8E00" stroke="#8E8E00" stroke-width="0.4"/>
<polygon points="105.13,626.34 106.93,630.67 111.60,631.04 108.04,634.09 109.13,638.64 105.13,636.20 101.14,638.64 102.22,634.09 98.67,631.04 103.33,630.67" fill="#8E8E00" stroke="#8E8E00" stroke-width="0.4"/>
<polygon points="118.31,595.27 120.11,599.59 124.78,599.97 121.22,603.01 122.31,607.57 118.31,605.13 114.31,607.57 115.40,603.01 111.84,599.97 116.51,599.59" fill="#8E8E00" stroke="#8E8E00" stroke-width="0.4"/>
<polygon points="131.49,516.66 133.29,520.98 137.95,521.36 134.40,524.40 135.48,528.96 131.49,526.52 127.49,528.96 128.58,524.40 125.02,521.36 129.69,520.98" fill="#8E8E00" stroke="#8E8E00" stroke-width="0.4"/>
<polygon points="144.66,490.19 146.46,494.51 151.13,494.89 147.58,497.94 148.66,502.49 144.66,500.05 140.67,502.49 141.75,497.94 138.20,494.89 142.87,494.51" fill="#8E8E00" stroke="#8E8E00" stroke-width="0.4"/>
<polygon points="157.84,465.17 159.64,469.50 164.31,469.87 160.75,472.92 161.84,477.47 157.84,475.03 153.85,477.47 154.93,472.92 151.38,469.87 156.04,469.50" fill="#8E8E00" stroke="#8E8E00" stroke-width="0.4"/>
<polygon points="171.02,380.90 172.82,385.22 177.49,385.60 173.93,388.65 175.02,393.20 171.02,390.76 167.02,393.20 168.11,388.65 164.55,385.60 169.22,385.22" fill="#8E8E00" stroke="#8E8E00" stroke-width="0.4"/>
<polygon points="184.20,380.90 186.00,385.22 190.66,385.60 187.11,388.65 188.19,393.20 184.20,390.76 180.20,393.20 181.29,388.65 177.73,385.60 182.40,385.22" fill="#8E8E00" stroke="#8E8E00" stroke-width="0.4"/>
<polygon points="197.38,380.90 199.17,385.22 203.84,385.60 200.29,388.65 201.37,393.20 197.38,390.76 193.38,393.20 194.46,388.65 190.91,385.60 195.58,385.22" fill="#8E8E00" stroke="#8E8E00" stroke-width="0.4"/>
<polygon points="210.55,380.90 212.35,385.22 217.02,385.60 213.46,388.65 214.55,393.20 210.55,390.76 206.56,393.20 207.64,388.65 204.09,385.60 208.75,385.22" fill="#8E8E00" stroke="#8E8E00" stroke-width="0.4"/>
<polygon points="223.73,380.90 225.53,385.22 230.20,385.60 226.64,388.65 227.73,393.20 223.73,390.76 219.73,393.20 220.82,388.65 217.26,385.60 221.93,385.22" fill="#8E8E00" stroke="#8E8E00" stroke-width="0.4"/>
<polygon points="236.91,380.90 238.71,385.22 243.37,385.60 239.82,388.65 240.90,393.20 236.91,390.76 232.91,393.20 234.00,388.65 230.44,385.60 235.11,385.22" fill="#8E8E00" stroke="#8E8E00" stroke-width="0.4"/>
<polygon points="250.08,380.90 251.88,385.22 256.55,385.60 253.00,388.65 254.08,393.20 250.08,390.76 246.09,393.20 247.17,388.65 243.62,385.60 248.29,385.22" fill="#8E8E00" stroke="#8E8E00" stroke-width="0.4"/>
<polygon points="263.26,380.90 265.06,385.22 269.73,385.60 266.17,388.65 267.26,393.20 263.26,390.76 259.27,393.20 260.35,388.65 256.80,385.60 261.46,385.22" fill="#8E8E00" stroke="#8E8E00" stroke-width="0.4"/>
<polygon points="276.44,380.90 278.24,385.22 282.91,385.60 279.35,388.65 280.44,393.20 276.44,390.76 272.44,393.20 273.53,388.65 269.97,385.60 274.64,385.22" fill="#8E8E00" stroke="#8E8E00" stroke-width="0.4"/>
<polygon points="289.62,380.90 291.42,385.22 296.08,385.60 292.53,388.65 293.61,393.20 289.62,390.76 285.62,393.20 286.71,388.65 283.15,385.60 287.82,385.22" fill="#8E8E00" stroke="#8E8E00" stroke-width="0.4"/>
<polygon points="302.80,380.90 304.59,385.22 309.26,385.60 305.71,388.65 306.79,393.20 302.80,390.76 298.80,393.20 299.88,388.65 296.33,385.60 301.00,385.22" fill="#8E8E00" stroke="#8E8E00" stroke-width="0.4"/>
<polygon points="315.97,380.90 317.77,385.22 322.44,385.60 318.88,388.65 319.97,393.20 315.97,390.76 311.98,393.20 313.06,388.65 309.51,385.60 314.17,385.22" fill="#8E8E00" stroke="#8E8E00" stroke-width="0.4"/>
<polygon points="329.15,380.90 330.95,385.22 335.62,385.60 332.06,388.65 333.15,393.20 329.15,390.76 325.15,393.20 326.24,388.65 322.68,385.60 327.35,385.22" fill="#8E8E00" stroke="#8E8E00" stroke-width="0.4"/>
<polyline points="78.78,646.57 91.95,646.31 105.13,646.05 118.31,646.05 131.49,646.05 144.66,646.05 157.84,387.70 171.02,387.70 184.20,387.70 197.38,387.70 210.55,387.70 223.73,387.70 236.91,387.70 250.08,387.70 263.26,387.70 276.44,387.70 289.62,387.70 302.80,387.70 315.97,387.70 329.15,387.70" fill="none" stroke="#FB6501" stroke-width="0.75"/>
<polygon points="78.78,639.82 85.20,644.49 82.75,652.03 74.81,652.03 72.36,644.49" fill="#FB6501"/>
<polygon points="91.95,639.56 98.37,644.22 95.92,651.77 87.99,651.77 85.54,644.22" fill="#FB6501"/>
<polygon points="105.13,639.30 111.55,643.96 109.10,651.51 101.16,651.51 98.71,643.96" fill="#FB6501"/>
<polygon points="118.31,639.30 124.73,643.96 122.28,651.51 114.34,651.51 111.89,643.96" fill="#FB6501"/>
<polygon points="131.49,639.30 137.91,643.96 135.46,651.51 127.52,651.51 125.07,643.96" fill="#FB6501"/>
<polygon points="144.66,639.30 151.08,643.96 148.63,651.51 140.70,651.51 138.25,643.96" fill="#FB6501"/>
<polygon points="157.84,380.95 164.26,385.61 161.81,393.16 153.87,393.16 151.42,385.61" fill="#FB6501"/>
<polygon points="171.02,380.95 177.44,385.61 174.99,393.16 167.05,393.16 164.60,385.61" fill="#FB6501"/>
<polygon points="184.20,380.95 190.62,385.61 188.17,393.16 180.23,393.16 177.78,385.61" fill="#FB6501"/>
<polygon points="197.38,380.95 203.79,385.61 201.34,393.16 193.41,393.16 190.96,385.61" fill="#FB6501"/>
<polygon points="210.55,380.95 216.97,385.61 214.52,393.16 206.58,393.16 204.13,385.61" fill="#FB6501"/>
<polygon points="223.73,380.95 230.15,385.61 227.70,393.16 219.76,393.16 217.31,385.61" fill="#FB6501"/>
<polygon points="236.91,380.95 243.33,385.61 240.88,393.16 232.94,393.16 230.49,385.61" fill="#FB6501"/>
<polygon points="250.08,380.95 256.50,385.61 254.05,393.16 246.12,393.16 243.67,385.61" fill="#FB6501"/>
<polygon points="263.26,380.95 269.68,385.61 267.23,393.16 259.29,393.16 256.84,385.61" fill="#FB6501"/>
<polygon points="276.44,380.95 282.86,385.61 280.41,393.16 272.47,393.16 270.02,385.61" fill="#FB6501"/>
<polygon points="289.62,380.95 296.04,385.61 293.59,393.16 285.65,393.16 283.20,385.61" fill="#FB6501"/>
<polygon points="302.80,380.95 309.21,385.61 306.76,393.16 298.83,393.16 296.38,385.61" fill="#FB6501"/>
<polygon points="315.97,380.95 322.39,385.61 319.94,393.16 312.00,393.16 309.55,385.61" fill="#FB6501"/>
<polygon points="329.15,380.95 335.57,385.61 333.12,393.16 325.18,393.16 322.73,385.61" fill="#FB6501"/>
</g>
<text x="50.00" y="653.20" text-anchor="end" class="tl">0.0</text>
<text x="65.70" y="678.00" text-anchor="middle" class="tl">0.0</text>
<text x="50.00" y="600.53" text-anchor="end" class="tl">0.2</text>
<text x="118.41" y="678.00" text-anchor="middle" class="tl">0.2</text>
<text x="50.00" y="547.86" text-anchor="end" class="tl">0.4</text>
<text x="171.12" y="678.00" text-anchor="middle" class="tl">0.4</text>
<text x="50.00" y="495.19" text-anchor="end" class="tl">0.6</text>
<text x="223.83" y="678.00" text-anchor="middle" class="tl">0.6</text>
<text x="50.00" y="442.52" text-anchor="end" class="tl">0.8</text>
<text x="276.54" y="678.00" text-anchor="middle" class="tl">0.8</text>
<text x="50.00" y="389.85" text-anchor="end" class="tl">1.0</text>
<text x="329.25" y="678.00" text-anchor="middle" class="tl">1.0</text>
<text transform="translate(196.57,704.55) scale(0.935,1)" text-anchor="middle" class="at">Export Shrinkage Proportion</text>
<text transform="translate(15.30,516.32) rotate(-90) scale(0.941,1)" text-anchor="middle" class="at">Avalanche Ratio</text>
<text transform="translate(65.10,373.55) scale(0.927,1)" class="pt">(c) 2017</text>
<path d="M264.10,408.60H290.00" stroke="#515151" stroke-width="0.7"/>
<rect x="271.85" y="403.45" width="10.30" height="10.30" fill="#515151"/>
<text x="292.60" y="412.15" class="lg">TWN</text>
<path d="M264.10,422.65H290.00" stroke="#F14040" stroke-width="0.7"/>
<circle cx="277.00" cy="422.65" r="5.95" fill="#F14040"/>
<text x="292.60" y="426.20" class="lg">CHN</text>
<path d="M264.10,436.70H290.00" stroke="#1A6FDF" stroke-width="0.7"/>
<polygon points="277.00,428.60 270.00,440.75 284.00,440.75" fill="#1A6FDF"/>
<text x="292.60" y="440.25" class="lg">MYS</text>
<path d="M264.10,450.75H290.00" stroke="#37AD6B" stroke-width="0.7"/>
<polygon points="277.00,458.85 270.00,446.70 284.00,446.70" fill="#37AD6B"/>
<text x="292.60" y="454.30" class="lg">HKG</text>
<path d="M264.10,464.80H290.00" stroke="#B177DE" stroke-width="0.7"/>
<polygon points="277.00,457.80 284.00,464.80 277.00,471.80 270.00,464.80" fill="#B177DE"/>
<text x="292.60" y="468.35" class="lg">KOR</text>
<path d="M264.10,478.85H290.00" stroke="#CC9900" stroke-width="0.7"/>
<polygon points="268.90,478.85 281.05,471.85 281.05,485.85" fill="#CC9900"/>
<text x="292.60" y="482.40" class="lg">SGP</text>
<path d="M264.10,492.90H290.00" stroke="#00CBCC" stroke-width="0.7"/>
<polygon points="285.10,492.90 272.95,485.90 272.95,499.90" fill="#00CBCC"/>
<text x="292.60" y="496.45" class="lg">DEU</text>
<path d="M264.10,506.95H290.00" stroke="#7D4E4E" stroke-width="0.7"/>
<polygon points="277.00,500.60 283.00,503.78 283.00,510.12 277.00,513.30 271.00,510.12 271.00,503.78" fill="#7D4E4E"/>
<text x="292.60" y="510.50" class="lg">USA</text>
<path d="M264.10,521.00H290.00" stroke="#8E8E00" stroke-width="0.7"/>
<polygon points="277.00,514.20 278.80,518.52 283.47,518.90 279.91,521.95 281.00,526.50 277.00,524.06 273.00,526.50 274.09,521.95 270.53,518.90 275.20,518.52" fill="#8E8E00" stroke="#8E8E00" stroke-width="0.4"/>
<text x="292.60" y="524.55" class="lg">NLD</text>
<path d="M264.10,535.05H290.00" stroke="#FB6501" stroke-width="0.7"/>
<polygon points="277.00,528.30 283.42,532.96 280.97,540.51 273.03,540.51 270.58,532.96" fill="#FB6501"/>
<text x="292.60" y="538.60" class="lg">JPN</text>
<path d="M400.00,383.75H674.00M400.00,647.10H674.00M409.00,383.75V655.80M673.00,383.75V655.80" fill="none" stroke="#000" stroke-width="1.9"/>
<path d="M404.30,620.76H409.0M668.30,620.76H673.0M435.40,647.1V651.80M435.40,383.75V388.45M400.00,594.43H409.0M664.00,594.43H673.0M461.80,647.1V655.80M461.80,383.75V392.45M404.30,568.10H409.0M668.30,568.10H673.0M488.20,647.1V651.80M488.20,383.75V388.45M400.00,541.76H409.0M664.00,541.76H673.0M514.60,647.1V655.80M514.60,383.75V392.45M404.30,515.42H409.0M668.30,515.42H673.0M541.00,647.1V651.80M541.00,383.75V388.45M400.00,489.09H409.0M664.00,489.09H673.0M567.40,647.1V655.80M567.40,383.75V392.45M404.30,462.75H409.0M668.30,462.75H673.0M593.80,647.1V651.80M593.80,383.75V388.45M400.00,436.42H409.0M664.00,436.42H673.0M620.20,647.1V655.80M620.20,383.75V392.45M404.30,410.09H409.0M668.30,410.09H673.0M646.60,647.1V651.80M646.60,383.75V388.45" fill="none" stroke="#000" stroke-width="1.9"/>
<clipPath id="cp3"><rect x="409.0" y="383.75" width="265.0" height="263.65000000000003"/></clipPath>
<g clip-path="url(#cp3)">
<polyline points="422.20,644.47 435.40,637.36 448.60,387.70 461.80,387.70 475.00,387.70 488.20,387.70 501.40,387.70 514.60,387.70 527.80,387.70 541.00,387.70 554.20,387.70 567.40,387.70 580.60,387.70 593.80,387.70 607.00,387.70 620.20,387.70 633.40,387.70 646.60,387.70 659.80,387.70 673.00,387.70" fill="none" stroke="#515151" stroke-width="0.75"/>
<rect x="417.05" y="639.32" width="10.30" height="10.30" fill="#515151"/>
<rect x="430.25" y="632.21" width="10.30" height="10.30" fill="#515151"/>
<rect x="443.45" y="382.55" width="10.30" height="10.30" fill="#515151"/>
<rect x="456.65" y="382.55" width="10.30" height="10.30" fill="#515151"/>
<rect x="469.85" y="382.55" width="10.30" height="10.30" fill="#515151"/>
<rect x="483.05" y="382.55" width="10.30" height="10.30" fill="#515151"/>
<rect x="496.25" y="382.55" width="10.30" height="10.30" fill="#515151"/>
<rect x="509.45" y="382.55" width="10.30" height="10.30" fill="#515151"/>
<rect x="522.65" y="382.55" width="10.30" height="10.30" fill="#515151"/>
<rect x="535.85" y="382.55" width="10.30" height="10.30" fill="#515151"/>
<rect x="549.05" y="382.55" width="10.30" height="10.30" fill="#515151"/>
<rect x="562.25" y="382.55" width="10.30" height="10.30" fill="#515151"/>
<rect x="575.45" y="382.55" width="10.30" height="10.30" fill="#515151"/>
<rect x="588.65" y="382.55" width="10.30" height="10.30" fill="#515151"/>
<rect x="601.85" y="382.55" width="10.30" height="10.30" fill="#515151"/>
<rect x="615.05" y="382.55" width="10.30" height="10.30" fill="#515151"/>
<rect x="628.25" y="382.55" width="10.30" height="10.30" fill="#515151"/>
<rect x="641.45" y="382.55" width="10.30" height="10.30" fill="#515151"/>
<rect x="654.65" y="382.55" width="10.30" height="10.30" fill="#515151"/>
<rect x="667.85" y="382.55" width="10.30" height="10.30" fill="#515151"/>
<polyline points="422.20,644.99 435.40,641.83 448.60,387.70 461.80,387.70 475.00,387.70 488.20,387.70 501.40,387.70 514.60,387.70 527.80,387.70 541.00,387.70 554.20,387.70 567.40,387.70 580.60,387.70 593.80,387.70 607.00,387.70 620.20,387.70 633.40,387.70 646.60,387.70 659.80,387.70 673.00,387.70" fill="none" stroke="#F14040" stroke-width="0.75"/>
<circle cx="422.20" cy="644.99" r="5.95" fill="#F14040"/>
<circle cx="435.40" cy="641.83" r="5.95" fill="#F14040"/>
<circle cx="448.60" cy="387.70" r="5.95" fill="#F14040"/>
<circle cx="461.80" cy="387.70" r="5.95" fill="#F14040"/>
<circle cx="475.00" cy="387.70" r="5.95" fill="#F14040"/>
<circle cx="488.20" cy="387.70" r="5.95" fill="#F14040"/>
<circle cx="501.40" cy="387.70" r="5.95" fill="#F14040"/>
<circle cx="514.60" cy="387.70" r="5.95" fill="#F14040"/>
<circle cx="527.80" cy="387.70" r="5.95" fill="#F14040"/>
<circle cx="541.00" cy="387.70" r="5.95" fill="#F14040"/>
<circle cx="554.20" cy="387.70" r="5.95" fill="#F14040"/>
<circle cx="567.40" cy="387.70" r="5.95" fill="#F14040"/>
<circle cx="580.60" cy="387.70" r="5.95" fill="#F14040"/>
<circle cx="593.80" cy="387.70" r="5.95" fill="#F14040"/>
<circle cx="607.00" cy="387.70" r="5.95" fill="#F14040"/>
<circle cx="620.20" cy="387.70" r="5.95" fill="#F14040"/>
<circle cx="633.40" cy="387.70" r="5.95" fill="#F14040"/>
<circle cx="646.60" cy="387.70" r="5.95" fill="#F14040"/>
<circle cx="659.80" cy="387.70" r="5.95" fill="#F14040"/>
<circle cx="673.00" cy="387.70" r="5.95" fill="#F14040"/>
<polyline points="422.20,644.99 435.40,641.83 448.60,497.78 461.80,416.93 475.00,387.70 488.20,387.70 501.40,387.70 514.60,387.70 527.80,387.70 541.00,387.70 554.20,387.70 567.40,387.70 580.60,387.70 593.80,387.70 607.00,387.70 620.20,387.70 633.40,387.70 646.60,387.70 659.80,387.70 673.00,387.70" fill="none" stroke="#1A6FDF" stroke-width="0.75"/>
<polygon points="422.20,636.89 415.20,649.04 429.20,649.04" fill="#1A6FDF"/>
<polygon points="435.40,633.73 428.40,645.88 442.40,645.88" fill="#1A6FDF"/>
<polygon points="448.60,489.68 441.60,501.83 455.60,501.83" fill="#1A6FDF"/>
<polygon points="461.80,408.83 454.80,420.98 468.80,420.98" fill="#1A6FDF"/>
<polygon points="475.00,379.60 468.00,391.75 482.00,391.75" fill="#1A6FDF"/>
<polygon points="488.20,379.60 481.20,391.75 495.20,391.75" fill="#1A6FDF"/>
<polygon points="501.40,379.60 494.40,391.75 508.40,391.75" fill="#1A6FDF"/>
<polygon points="514.60,379.60 507.60,391.75 521.60,391.75" fill="#1A6FDF"/>
<polygon points="527.80,379.60 520.80,391.75 534.80,391.75" fill="#1A6FDF"/>
<polygon points="541.00,379.60 534.00,391.75 548.00,391.75" fill="#1A6FDF"/>
<polygon points="554.20,379.60 547.20,391.75 561.20,391.75" fill="#1A6FDF"/>
<polygon points="567.40,379.60 560.40,391.75 574.40,391.75" fill="#1A6FDF"/>
<polygon points="580.60,379.60 573.60,391.75 587.60,391.75" fill="#1A6FDF"/>
<polygon points="593.80,379.60 586.80,391.75 600.80,391.75" fill="#1A6FDF"/>
<polygon points="607.00,379.60 600.00,391.75 614.00,391.75" fill="#1A6FDF"/>
<polygon points="620.20,379.60 613.20,391.75 627.20,391.75" fill="#1A6FDF"/>
<polygon points="633.40,379.60 626.40,391.75 640.40,391.75" fill="#1A6FDF"/>
<polygon points="646.60,379.60 639.60,391.75 653.60,391.75" fill="#1A6FDF"/>
<polygon points="659.80,379.60 652.80,391.75 666.80,391.75" fill="#1A6FDF"/>
<polygon points="673.00,379.60 666.00,391.75 680.00,391.75" fill="#1A6FDF"/>
<polyline points="422.20,644.99 435.40,641.83 448.60,636.57 461.80,387.70 475.00,387.70 488.20,387.70 501.40,387.70 514.60,387.70 527.80,387.70 541.00,387.70 554.20,387.70 567.40,387.70 580.60,387.70 593.80,387.70 607.00,387.70 620.20,387.70 633.40,387.70 646.60,387.70 659.80,387.70 673.00,387.70" fill="none" stroke="#37AD6B" stroke-width="0.75"/>
<polygon points="422.20,653.09 415.20,640.94 429.20,640.94" fill="#37AD6B"/>
<polygon points="435.40,649.93 428.40,637.78 442.40,637.78" fill="#37AD6B"/>
<polygon points="448.60,644.67 441.60,632.52 455.60,632.52" fill="#37AD6B"/>
<polygon points="461.80,395.80 454.80,383.65 468.80,383.65" fill="#37AD6B"/>
<polygon points="475.00,395.80 468.00,383.65 482.00,383.65" fill="#37AD6B"/>
<polygon points="488.20,395.80 481.20,383.65 495.20,383.65" fill="#37AD6B"/>
<polygon points="501.40,395.80 494.40,383.65 508.40,383.65" fill="#37AD6B"/>
<polygon points="514.60,395.80 507.60,383.65 521.60,383.65" fill="#37AD6B"/>
<polygon points="527.80,395.80 520.80,383.65 534.80,383.65" fill="#37AD6B"/>
<polygon points="541.00,395.80 534.00,383.65 548.00,383.65" fill="#37AD6B"/>
<polygon points="554.20,395.80 547.20,383.65 561.20,383.65" fill="#37AD6B"/>
<polygon points="567.40,395.80 560.40,383.65 574.40,383.65" fill="#37AD6B"/>
<polygon points="580.60,395.80 573.60,383.65 587.60,383.65" fill="#37AD6B"/>
<polygon points="593.80,395.80 586.80,383.65 600.80,383.65" fill="#37AD6B"/>
<polygon points="607.00,395.80 600.00,383.65 614.00,383.65" fill="#37AD6B"/>
<polygon points="620.20,395.80 613.20,383.65 627.20,383.65" fill="#37AD6B"/>
<polygon points="633.40,395.80 626.40,383.65 640.40,383.65" fill="#37AD6B"/>
<polygon points="646.60,395.80 639.60,383.65 653.60,383.65" fill="#37AD6B"/>
<polygon points="659.80,395.80 652.80,383.65 666.80,383.65" fill="#37AD6B"/>
<polygon points="673.00,395.80 666.00,383.65 680.00,383.65" fill="#37AD6B"/>
<polyline points="422.20,644.99 435.40,643.94 448.60,641.83 461.80,641.83 475.00,387.70 488.20,387.70 501.40,387.70 514.60,387.70 527.80,387.70 541.00,387.70 554.20,387.70 567.40,387.70 580.60,387.70 593.80,387.70 607.00,387.70 620.20,387.70 633.40,387.70 646.60,387.70 659.80,387.70 673.00,387.70" fill="none" stroke="#B177DE" stroke-width="0.75"/>
<polygon points="422.20,637.99 429.20,644.99 422.20,651.99 415.20,644.99" fill="#B177DE"/>
<polygon points="435.40,636.94 442.40,643.94 435.40,650.94 428.40,643.94" fill="#B177DE"/>
<polygon points="448.60,634.83 455.60,641.83 448.60,648.83 441.60,641.83" fill="#B177DE"/>
<polygon points="461.80,634.83 468.80,641.83 461.80,648.83 454.80,641.83" fill="#B177DE"/>
<polygon points="475.00,380.70 482.00,387.70 475.00,394.70 468.00,387.70" fill="#B177DE"/>
<polygon points="488.20,380.70 495.20,387.70 488.20,394.70 481.20,387.70" fill="#B177DE"/>
<polygon points="501.40,380.70 508.40,387.70 501.40,394.70 494.40,387.70" fill="#B177DE"/>
<polygon points="514.60,380.70 521.60,387.70 514.60,394.70 507.60,387.70" fill="#B177DE"/>
<polygon points="527.80,380.70 534.80,387.70 527.80,394.70 520.80,387.70" fill="#B177DE"/>
<polygon points="541.00,380.70 548.00,387.70 541.00,394.70 534.00,387.70" fill="#B177DE"/>
<polygon points="554.20,380.70 561.20,387.70 554.20,394.70 547.20,387.70" fill="#B177DE"/>
<polygon points="567.40,380.70 574.40,387.70 567.40,394.70 560.40,387.70" fill="#B177DE"/>
<polygon points="580.60,380.70 587.60,387.70 580.60,394.70 573.60,387.70" fill="#B177DE"/>
<polygon points="593.80,380.70 600.80,387.70 593.80,394.70 586.80,387.70" fill="#B177DE"/>
<polygon points="607.00,380.70 614.00,387.70 607.00,394.70 600.00,387.70" fill="#B177DE"/>
<polygon points="620.20,380.70 627.20,387.70 620.20,394.70 613.20,387.70" fill="#B177DE"/>
<polygon points="633.40,380.70 640.40,387.70 633.40,394.70 626.40,387.70" fill="#B177DE"/>
<polygon points="646.60,380.70 653.60,387.70 646.60,394.70 639.60,387.70" fill="#B177DE"/>
<polygon points="659.80,380.70 666.80,387.70 659.80,394.70 652.80,387.70" fill="#B177DE"/>
<polygon points="673.00,380.70 680.00,387.70 673.00,394.70 666.00,387.70" fill="#B177DE"/>
<polyline points="422.20,641.83 435.40,616.81 448.60,591.80 461.80,579.16 475.00,566.78 488.20,387.70 501.40,387.70 514.60,387.70 527.80,387.70 541.00,387.70 554.20,387.70 567.40,387.70 580.60,387.70 593.80,387.70 607.00,387.70 620.20,387.70 633.40,387.70 646.60,387.70 659.80,387.70 673.00,387.70" fill="none" stroke="#CC9900" stroke-width="0.75"/>
<polygon points="414.10,641.83 426.25,634.83 426.25,648.83" fill="#CC9900"/>
<polygon points="427.30,616.81 439.45,609.81 439.45,623.81" fill="#CC9900"/>
<polygon points="440.50,591.80 452.65,584.80 452.65,598.80" fill="#CC9900"/>
<polygon points="453.70,579.16 465.85,572.16 465.85,586.16" fill="#CC9900"/>
<polygon points="466.90,566.78 479.05,559.78 479.05,573.78" fill="#CC9900"/>
<polygon points="480.10,387.70 492.25,380.70 492.25,394.70" fill="#CC9900"/>
<polygon points="493.30,387.70 505.45,380.70 505.45,394.70" fill="#CC9900"/>
<polygon points="506.50,387.70 518.65,380.70 518.65,394.70" fill="#CC9900"/>
<polygon points="519.70,387.70 531.85,380.70 531.85,394.70" fill="#CC9900"/>
<polygon points="532.90,387.70 545.05,380.70 545.05,394.70" fill="#CC9900"/>
<polygon points="546.10,387.70 558.25,380.70 558.25,394.70" fill="#CC9900"/>
<polygon points="559.30,387.70 571.45,380.70 571.45,394.70" fill="#CC9900"/>
<polygon points="572.50,387.70 584.65,380.70 584.65,394.70" fill="#CC9900"/>
<polygon points="585.70,387.70 597.85,380.70 597.85,394.70" fill="#CC9900"/>
<polygon points="598.90,387.70 611.05,380.70 611.05,394.70" fill="#CC9900"/>
<polygon points="612.10,387.70 624.25,380.70 624.25,394.70" fill="#CC9900"/>
<polygon points="625.30,387.70 637.45,380.70 637.45,394.70" fill="#CC9900"/>
<polygon points="638.50,387.70 650.65,380.70 650.65,394.70" fill="#CC9900"/>
<polygon points="651.70,387.70 663.85,380.70 663.85,394.70" fill="#CC9900"/>
<polygon points="664.90,387.70 677.05,380.70 677.05,394.70" fill="#CC9900"/>
<polyline points="422.20,643.94 435.40,641.83 448.60,639.20 461.80,631.56 475.00,630.77 488.20,387.70 501.40,387.70 514.60,387.70 527.80,387.70 541.00,387.70 554.20,387.70 567.40,387.70 580.60,387.70 593.80,387.70 607.00,387.70 620.20,387.70 633.40,387.70 646.60,387.70 659.80,387.70 673.00,387.70" fill="none" stroke="#00CBCC" stroke-width="0.75"/>
<polygon points="430.30,643.94 418.15,636.94 418.15,650.94" fill="#00CBCC"/>
<polygon points="443.50,641.83 431.35,634.83 431.35,648.83" fill="#00CBCC"/>
<polygon points="456.70,639.20 444.55,632.20 444.55,646.20" fill="#00CBCC"/>
<polygon points="469.90,631.56 457.75,624.56 457.75,638.56" fill="#00CBCC"/>
<polygon points="483.10,630.77 470.95,623.77 470.95,637.77" fill="#00CBCC"/>
<polygon points="496.30,387.70 484.15,380.70 484.15,394.70" fill="#00CBCC"/>
<polygon points="509.50,387.70 497.35,380.70 497.35,394.70" fill="#00CBCC"/>
<polygon points="522.70,387.70 510.55,380.70 510.55,394.70" fill="#00CBCC"/>
<polygon points="535.90,387.70 523.75,380.70 523.75,394.70" fill="#00CBCC"/>
<polygon points="549.10,387.70 536.95,380.70 536.95,394.70" fill="#00CBCC"/>
<polygon points="562.30,387.70 550.15,380.70 550.15,394.70" fill="#00CBCC"/>
<polygon points="575.50,387.70 563.35,380.70 563.35,394.70" fill="#00CBCC"/>
<polygon points="588.70,387.70 576.55,380.70 576.55,394.70" fill="#00CBCC"/>
<polygon points="601.90,387.70 589.75,380.70 589.75,394.70" fill="#00CBCC"/>
<polygon points="615.10,387.70 602.95,380.70 602.95,394.70" fill="#00CBCC"/>
<polygon points="628.30,387.70 616.15,380.70 616.15,394.70" fill="#00CBCC"/>
<polygon points="641.50,387.70 629.35,380.70 629.35,394.70" fill="#00CBCC"/>
<polygon points="654.70,387.70 642.55,380.70 642.55,394.70" fill="#00CBCC"/>
<polygon points="667.90,387.70 655.75,380.70 655.75,394.70" fill="#00CBCC"/>
<polygon points="681.10,387.70 668.95,380.70 668.95,394.70" fill="#00CBCC"/>
<polyline points="422.20,644.99 435.40,637.62 448.60,634.20 461.80,574.15 475.00,529.65 488.20,519.38 501.40,473.29 514.60,470.13 527.80,470.13 541.00,387.70 554.20,387.70 567.40,387.70 580.60,387.70 593.80,387.70 607.00,387.70 620.20,387.70 633.40,387.70 646.60,387.70 659.80,387.70 673.00,387.70" fill="none" stroke="#7D4E4E" stroke-width="0.75"/>
<polygon points="422.20,638.64 428.20,641.82 428.20,648.16 422.20,651.34 416.20,648.16 416.20,641.82" fill="#7D4E4E"/>
<polygon points="435.40,631.27 441.40,634.45 441.40,640.79 435.40,643.97 429.40,640.79 429.40,634.45" fill="#7D4E4E"/>
<polygon points="448.60,627.85 454.60,631.03 454.60,637.37 448.60,640.55 442.60,637.37 442.60,631.03" fill="#7D4E4E"/>
<polygon points="461.80,567.80 467.80,570.98 467.80,577.32 461.80,580.50 455.80,577.32 455.80,570.98" fill="#7D4E4E"/>
<polygon points="475.00,523.30 481.00,526.48 481.00,532.82 475.00,536.00 469.00,532.82 469.00,526.48" fill="#7D4E4E"/>
<polygon points="488.20,513.03 494.20,516.21 494.20,522.55 488.20,525.73 482.20,522.55 482.20,516.21" fill="#7D4E4E"/>
<polygon points="501.40,466.94 507.40,470.12 507.40,476.46 501.40,479.64 495.40,476.46 495.40,470.12" fill="#7D4E4E"/>
<polygon points="514.60,463.78 520.60,466.96 520.60,473.30 514.60,476.48 508.60,473.30 508.60,466.96" fill="#7D4E4E"/>
<polygon points="527.80,463.78 533.80,466.96 533.80,473.30 527.80,476.48 521.80,473.30 521.80,466.96" fill="#7D4E4E"/>
<polygon points="541.00,381.35 547.00,384.53 547.00,390.87 541.00,394.05 535.00,390.87 535.00,384.53" fill="#7D4E4E"/>
<polygon points="554.20,381.35 560.20,384.53 560.20,390.87 554.20,394.05 548.20,390.87 548.20,384.53" fill="#7D4E4E"/>
<polygon points="567.40,381.35 573.40,384.53 573.40,390.87 567.40,394.05 561.40,390.87 561.40,384.53" fill="#7D4E4E"/>
<polygon points="580.60,381.35 586.60,384.53 586.60,390.87 580.60,394.05 574.60,390.87 574.60,384.53" fill="#7D4E4E"/>
<polygon points="593.80,381.35 599.80,384.53 599.80,390.87 593.80,394.05 587.80,390.87 587.80,384.53" fill="#7D4E4E"/>
<polygon points="607.00,381.35 613.00,384.53 613.00,390.87 607.00,394.05 601.00,390.87 601.00,384.53" fill="#7D4E4E"/>
<polygon points="620.20,381.35 626.20,384.53 626.20,390.87 620.20,394.05 614.20,390.87 614.20,384.53" fill="#7D4E4E"/>
<polygon points="633.40,381.35 639.40,384.53 639.40,390.87 633.40,394.05 627.40,390.87 627.40,384.53" fill="#7D4E4E"/>
<polygon points="646.60,381.35 652.60,384.53 652.60,390.87 646.60,394.05 640.60,390.87 640.60,384.53" fill="#7D4E4E"/>
<polygon points="659.80,381.35 665.80,384.53 665.80,390.87 659.80,394.05 653.80,390.87 653.80,384.53" fill="#7D4E4E"/>
<polygon points="673.00,381.35 679.00,384.53 679.00,390.87 673.00,394.05 667.00,390.87 667.00,384.53" fill="#7D4E4E"/>
<polyline points="422.20,644.99 435.40,641.83 448.60,635.51 461.80,615.23 475.00,543.60 488.20,528.59 501.40,512.26 514.60,470.13 527.80,470.13 541.00,387.70 554.20,387.70 567.40,387.70 580.60,387.70 593.80,387.70 607.00,387.70 620.20,387.70 633.40,387.70 646.60,387.70 659.80,387.70 673.00,387.70" fill="none" stroke="#8E8E00" stroke-width="0.75"/>
<polygon points="422.20,638.19 424.00,642.52 428.67,642.89 425.11,645.94 426.20,650.49 422.20,648.05 418.20,650.49 419.29,645.94 415.73,642.89 420.40,642.52" fill="#8E8E00" stroke="#8E8E00" stroke-width="0.4"/>
<polygon points="435.40,635.03 437.20,639.36 441.87,639.73 438.31,642.78 439.40,647.33 435.40,644.89 431.40,647.33 432.49,642.78 428.93,639.73 433.60,639.36" fill="#8E8E00" stroke="#8E8E00" stroke-width="0.4"/>
<polygon points="448.60,628.71 450.40,633.04 455.07,633.41 451.51,636.46 452.60,641.01 448.60,638.57 444.60,641.01 445.69,636.46 442.13,633.41 446.80,633.04" fill="#8E8E00" stroke="#8E8E00" stroke-width="0.4"/>
<polygon points="461.80,608.43 463.60,612.76 468.27,613.13 464.71,616.18 465.80,620.74 461.80,618.29 457.80,620.74 458.89,616.18 455.33,613.13 460.00,612.76" fill="#8E8E00" stroke="#8E8E00" stroke-width="0.4"/>
<polygon points="475.00,536.80 476.80,541.13 481.47,541.50 477.91,544.55 479.00,549.10 475.00,546.66 471.00,549.10 472.09,544.55 468.53,541.50 473.20,541.13" fill="#8E8E00" stroke="#8E8E00" stroke-width="0.4"/>
<polygon points="488.20,521.79 490.00,526.12 494.67,526.49 491.11,529.54 492.20,534.09 488.20,531.65 484.20,534.09 485.29,529.54 481.73,526.49 486.40,526.12" fill="#8E8E00" stroke="#8E8E00" stroke-width="0.4"/>
<polygon points="501.40,505.46 503.20,509.79 507.87,510.16 504.31,513.21 505.40,517.77 501.40,515.32 497.40,517.77 498.49,513.21 494.93,510.16 499.60,509.79" fill="#8E8E00" stroke="#8E8E00" stroke-width="0.4"/>
<polygon points="514.60,463.33 516.40,467.65 521.07,468.03 517.51,471.07 518.60,475.63 514.60,473.19 510.60,475.63 511.69,471.07 508.13,468.03 512.80,467.65" fill="#8E8E00" stroke="#8E8E00" stroke-width="0.4"/>
<polygon points="527.80,463.33 529.60,467.65 534.27,468.03 530.71,471.07 531.80,475.63 527.80,473.19 523.80,475.63 524.89,471.07 521.33,468.03 526.00,467.65" fill="#8E8E00" stroke="#8E8E00" stroke-width="0.4"/>
<polygon points="541.00,380.90 542.80,385.22 547.47,385.60 543.91,388.65 545.00,393.20 541.00,390.76 537.00,393.20 538.09,388.65 534.53,385.60 539.20,385.22" fill="#8E8E00" stroke="#8E8E00" stroke-width="0.4"/>
<polygon points="554.20,380.90 556.00,385.22 560.67,385.60 557.11,388.65 558.20,393.20 554.20,390.76 550.20,393.20 551.29,388.65 547.73,385.60 552.40,385.22" fill="#8E8E00" stroke="#8E8E00" stroke-width="0.4"/>
<polygon points="567.40,380.90 569.20,385.22 573.87,385.60 570.31,388.65 571.40,393.20 567.40,390.76 563.40,393.20 564.49,388.65 560.93,385.60 565.60,385.22" fill="#8E8E00" stroke="#8E8E00" stroke-width="0.4"/>
<polygon points="580.60,380.90 582.40,385.22 587.07,385.60 583.51,388.65 584.60,393.20 580.60,390.76 576.60,393.20 577.69,388.65 574.13,385.60 578.80,385.22" fill="#8E8E00" stroke="#8E8E00" stroke-width="0.4"/>
<polygon points="593.80,380.90 595.60,385.22 600.27,385.60 596.71,388.65 597.80,393.20 593.80,390.76 589.80,393.20 590.89,388.65 587.33,385.60 592.00,385.22" fill="#8E8E00" stroke="#8E8E00" stroke-width="0.4"/>
<polygon points="607.00,380.90 608.80,385.22 613.47,385.60 609.91,388.65 611.00,393.20 607.00,390.76 603.00,393.20 604.09,388.65 600.53,385.60 605.20,385.22" fill="#8E8E00" stroke="#8E8E00" stroke-width="0.4"/>
<polygon points="620.20,380.90 622.00,385.22 626.67,385.60 623.11,388.65 624.20,393.20 620.20,390.76 616.20,393.20 617.29,388.65 613.73,385.60 618.40,385.22" fill="#8E8E00" stroke="#8E8E00" stroke-width="0.4"/>
<polygon points="633.40,380.90 635.20,385.22 639.87,385.60 636.31,388.65 637.40,393.20 633.40,390.76 629.40,393.20 630.49,388.65 626.93,385.60 631.60,385.22" fill="#8E8E00" stroke="#8E8E00" stroke-width="0.4"/>
<polygon points="646.60,380.90 648.40,385.22 653.07,385.60 649.51,388.65 650.60,393.20 646.60,390.76 642.60,393.20 643.69,388.65 640.13,385.60 644.80,385.22" fill="#8E8E00" stroke="#8E8E00" stroke-width="0.4"/>
<polygon points="659.80,380.90 661.60,385.22 666.27,385.60 662.71,388.65 663.80,393.20 659.80,390.76 655.80,393.20 656.89,388.65 653.33,385.60 658.00,385.22" fill="#8E8E00" stroke="#8E8E00" stroke-width="0.4"/>
<polygon points="673.00,380.90 674.80,385.22 679.47,385.60 675.91,388.65 677.00,393.20 673.00,390.76 669.00,393.20 670.09,388.65 666.53,385.60 671.20,385.22" fill="#8E8E00" stroke="#8E8E00" stroke-width="0.4"/>
<polyline points="422.20,645.52 435.40,644.99 448.60,644.99 461.80,644.99 475.00,645.52 488.20,645.52 501.40,645.52 514.60,387.70 527.80,387.70 541.00,387.70 554.20,387.70 567.40,387.70 580.60,387.70 593.80,387.70 607.00,387.70 620.20,387.70 633.40,387.70 646.60,387.70 659.80,387.70 673.00,387.70" fill="none" stroke="#FB6501" stroke-width="0.75"/>
<polygon points="422.20,638.77 428.62,643.43 426.17,650.98 418.23,650.98 415.78,643.43" fill="#FB6501"/>
<polygon points="435.40,638.24 441.82,642.91 439.37,650.45 431.43,650.45 428.98,642.91" fill="#FB6501"/>
<polygon points="448.60,638.24 455.02,642.91 452.57,650.45 444.63,650.45 442.18,642.91" fill="#FB6501"/>
<polygon points="461.80,638.24 468.22,642.91 465.77,650.45 457.83,650.45 455.38,642.91" fill="#FB6501"/>
<polygon points="475.00,638.77 481.42,643.43 478.97,650.98 471.03,650.98 468.58,643.43" fill="#FB6501"/>
<polygon points="488.20,638.77 494.62,643.43 492.17,650.98 484.23,650.98 481.78,643.43" fill="#FB6501"/>
<polygon points="501.40,638.77 507.82,643.43 505.37,650.98 497.43,650.98 494.98,643.43" fill="#FB6501"/>
<polygon points="514.60,380.95 521.02,385.61 518.57,393.16 510.63,393.16 508.18,385.61" fill="#FB6501"/>
<polygon points="527.80,380.95 534.22,385.61 531.77,393.16 523.83,393.16 521.38,385.61" fill="#FB6501"/>
<polygon points="541.00,380.95 547.42,385.61 544.97,393.16 537.03,393.16 534.58,385.61" fill="#FB6501"/>
<polygon points="554.20,380.95 560.62,385.61 558.17,393.16 550.23,393.16 547.78,385.61" fill="#FB6501"/>
<polygon points="567.40,380.95 573.82,385.61 571.37,393.16 563.43,393.16 560.98,385.61" fill="#FB6501"/>
<polygon points="580.60,380.95 587.02,385.61 584.57,393.16 576.63,393.16 574.18,385.61" fill="#FB6501"/>
<polygon points="593.80,380.95 600.22,385.61 597.77,393.16 589.83,393.16 587.38,385.61" fill="#FB6501"/>
<polygon points="607.00,380.95 613.42,385.61 610.97,393.16 603.03,393.16 600.58,385.61" fill="#FB6501"/>
<polygon points="620.20,380.95 626.62,385.61 624.17,393.16 616.23,393.16 613.78,385.61" fill="#FB6501"/>
<polygon points="633.40,380.95 639.82,385.61 637.37,393.16 629.43,393.16 626.98,385.61" fill="#FB6501"/>
<polygon points="646.60,380.95 653.02,385.61 650.57,393.16 642.63,393.16 640.18,385.61" fill="#FB6501"/>
<polygon points="659.80,380.95 666.22,385.61 663.77,393.16 655.83,393.16 653.38,385.61" fill="#FB6501"/>
<polygon points="673.00,380.95 679.42,385.61 676.97,393.16 669.03,393.16 666.58,385.61" fill="#FB6501"/>
</g>
<text x="393.60" y="653.20" text-anchor="end" class="tl">0.0</text>
<text x="409.10" y="678.00" text-anchor="middle" class="tl">0.0</text>
<text x="393.60" y="600.53" text-anchor="end" class="tl">0.2</text>
<text x="461.90" y="678.00" text-anchor="middle" class="tl">0.2</text>
<text x="393.60" y="547.86" text-anchor="end" class="tl">0.4</text>
<text x="514.70" y="678.00" text-anchor="middle" class="tl">0.4</text>
<text x="393.60" y="495.19" text-anchor="end" class="tl">0.6</text>
<text x="567.50" y="678.00" text-anchor="middle" class="tl">0.6</text>
<text x="393.60" y="442.52" text-anchor="end" class="tl">0.8</text>
<text x="620.30" y="678.00" text-anchor="middle" class="tl">0.8</text>
<text x="393.60" y="389.85" text-anchor="end" class="tl">1.0</text>
<text x="673.10" y="678.00" text-anchor="middle" class="tl">1.0</text>
<text transform="translate(541.60,704.55) scale(0.935,1)" text-anchor="middle" class="at">Export Shrinkage Proportion</text>
<text transform="translate(356.60,517.72) rotate(-90) scale(0.941,1)" text-anchor="middle" class="at">Avalanche Ratio</text>
<text transform="translate(408.50,373.55) scale(0.927,1)" class="pt">(d) 2021</text>
<path d="M608.30,408.50H634.20" stroke="#515151" stroke-width="0.7"/>
<rect x="616.05" y="403.35" width="10.30" height="10.30" fill="#515151"/>
<text x="636.80" y="412.05" class="lg">CHN</text>
<path d="M608.30,422.55H634.20" stroke="#F14040" stroke-width="0.7"/>
<circle cx="621.20" cy="422.55" r="5.95" fill="#F14040"/>
<text x="636.80" y="426.10" class="lg">TWN</text>
<path d="M608.30,436.60H634.20" stroke="#1A6FDF" stroke-width="0.7"/>
<polygon points="621.20,428.50 614.20,440.65 628.20,440.65" fill="#1A6FDF"/>
<text x="636.80" y="440.15" class="lg">MYS</text>
<path d="M608.30,450.65H634.20" stroke="#37AD6B" stroke-width="0.7"/>
<polygon points="621.20,458.75 614.20,446.60 628.20,446.60" fill="#37AD6B"/>
<text x="636.80" y="454.20" class="lg">HKG</text>
<path d="M608.30,464.70H634.20" stroke="#B177DE" stroke-width="0.7"/>
<polygon points="621.20,457.70 628.20,464.70 621.20,471.70 614.20,464.70" fill="#B177DE"/>
<text x="636.80" y="468.25" class="lg">KOR</text>
<path d="M608.30,478.75H634.20" stroke="#CC9900" stroke-width="0.7"/>
<polygon points="613.10,478.75 625.25,471.75 625.25,485.75" fill="#CC9900"/>
<text x="636.80" y="482.30" class="lg">USA</text>
<path d="M608.30,492.80H634.20" stroke="#00CBCC" stroke-width="0.7"/>
<polygon points="629.30,492.80 617.15,485.80 617.15,499.80" fill="#00CBCC"/>
<text x="636.80" y="496.35" class="lg">SGP</text>
<path d="M608.30,506.85H634.20" stroke="#7D4E4E" stroke-width="0.7"/>
<polygon points="621.20,500.50 627.20,503.68 627.20,510.02 621.20,513.20 615.20,510.02 615.20,503.68" fill="#7D4E4E"/>
<text x="636.80" y="510.40" class="lg">NLD</text>
<path d="M608.30,520.90H634.20" stroke="#8E8E00" stroke-width="0.7"/>
<polygon points="621.20,514.10 623.00,518.42 627.67,518.80 624.11,521.85 625.20,526.40 621.20,523.96 617.20,526.40 618.29,521.85 614.73,518.80 619.40,518.42" fill="#8E8E00" stroke="#8E8E00" stroke-width="0.4"/>
<text x="636.80" y="524.45" class="lg">DEU</text>
<path d="M608.30,534.95H634.20" stroke="#FB6501" stroke-width="0.7"/>
<polygon points="621.20,528.20 627.62,532.86 625.17,540.41 617.23,540.41 614.78,532.86" fill="#FB6501"/>
<text x="636.80" y="538.50" class="lg">JPN</text>
</svg>
</body></html>
